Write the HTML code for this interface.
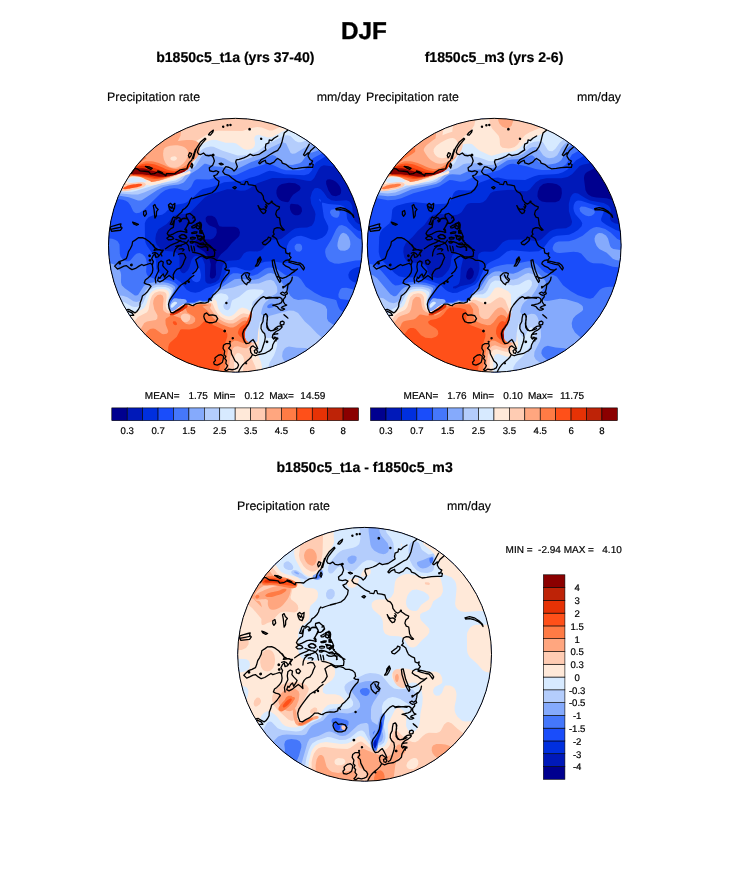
<!DOCTYPE html>
<html lang="en"><head><meta charset="utf-8"><title>DJF Precipitation rate</title>
<style>
html,body{margin:0;padding:0;background:#fff;}
body{width:733px;height:882px;overflow:hidden;font-family:"Liberation Sans",Arial,Helvetica,sans-serif;}
svg{display:block}
text{font-family:"Liberation Sans",Arial,Helvetica,sans-serif;fill:#000;text-rendering:geometricPrecision}
.t0{font-size:24.3px;font-weight:bold;stroke:#000;stroke-width:0.35px}
.t1{font-size:14.1px;font-weight:bold;stroke:#000;stroke-width:0.2px}
.t2{font-size:12.4px;stroke:#000;stroke-width:0.15px}
.lb{font-size:9.6px;stroke:#000;stroke-width:0.2px}
.st{font-size:10px;white-space:pre;stroke:#000;stroke-width:0.2px}
</style></head><body>
<svg width="733" height="882" viewBox="0 0 733 882">
<defs>
<clipPath id="clip1"><circle cx="235.4" cy="245.25" r="126.9"/></clipPath>
<clipPath id="clip2"><circle cx="494.2" cy="245.25" r="126.9"/></clipPath>
<clipPath id="clip3"><circle cx="364.6" cy="654.3" r="126.9"/></clipPath>
<g id="coast" fill="none" stroke="#000" stroke-width="1.3" stroke-linejoin="round" stroke-linecap="round"><path d="M-104.3,-71.6 -100.5,-76.9 -98.1,-76.4 -95.3,-74.3 -90.5,-74.0 -86.7,-73.5 -84.6,-71.1 -81.0,-71.6 -78.1,-73.3 -74.7,-72.1 -71.9,-71.1 -69.5,-69.5 -69.0,-71.6 -64.7,-71.6 -60.9,-71.3 -59.0,-73.0 -55.2,-75.4 -51.3,-76.1 -48.5,-76.4 -47.5,-80.2 -45.8,-83.1 -43.7,-85.0 -42.8,-87.8 -41.3,-92.1 -39.9,-96.0M-90.0,-78.8 -86.2,-78.3 -83.1,-76.9 -84.6,-75.8 -87.2,-77.1ZM-47.0,-89.8 -45.8,-92.6 -43.7,-91.7 -44.5,-89.3 -46.1,-87.4ZM-44.7,-78.8 -43.7,-82.1 -42.6,-80.2 -43.5,-77.1ZM-77.6,-74.3 -75.2,-73.7 -72.8,-72.4 -74.7,-72.4ZM-42.0,-86.7 -40.5,-92.5 -38.5,-97.7 -35.1,-102.9 -30.4,-107.0 -29.6,-106.2 -33.3,-101.8 -36.6,-97.4 -38.0,-93.1 -36.8,-91.1 -34.5,-90.7 -31.9,-92.3 -29.6,-90.0 -26.6,-89.5 -24.0,-90.2 -22.0,-87.6 -21.0,-84.2 -22.7,-80.0 -26.1,-77.4 -25.7,-74.5 -22.2,-73.7 -19.2,-74.5 -16.6,-73.3 -18.7,-70.5 -21.7,-69.3 -19.9,-66.8 -16.4,-64.0 -17.1,-59.8 -19.9,-55.4 -23.4,-52.5 -28.7,-50.8 -34.5,-49.3 -39.1,-47.8 -42.6,-46.5M-26.9,-110.5 -25.2,-112.8 -22.0,-115.1 -22.7,-112.8 -25.0,-110.1ZM-12.8,-118.6a0.58,0.58 0 1 0 1.16,0a0.58,0.58 0 1 0 -1.16,0ZM-8.4,-120.1a0.58,0.58 0 1 0 1.16,0a0.58,0.58 0 1 0 -1.16,0ZM-5.5,-120.3a0.58,0.58 0 1 0 1.16,0a0.58,0.58 0 1 0 -1.16,0ZM13.5,-116.1a0.70,0.70 0 1 0 1.39,0a0.70,0.70 0 1 0 -1.39,0ZM25.2,-106.4a0.58,0.58 0 1 0 1.16,0a0.58,0.58 0 1 0 -1.16,0ZM-22.9,-90.2a0.70,0.70 0 1 0 1.39,0a0.70,0.70 0 1 0 -1.39,0ZM-16.2,-81.6 -14.2,-82.1 -12.2,-80.9 -14.2,-80.3ZM-2.6,-57.7 -0.6,-58.7 0.9,-57.7 -0.6,-56.3ZM42.4,-109.3 38.6,-107.0 36.3,-104.7 33.9,-105.3 33.4,-102.4 30.5,-101.2 29.9,-97.7 30.5,-95.4 27.0,-93.1 23.5,-90.8 20.0,-90.2 17.7,-89.6 14.8,-91.1 11.9,-89.0 8.4,-87.3 3.8,-85.8 0.9,-85.3 0.3,-83.2 2.0,-78.6 0.3,-75.7 -1.4,-74.2 -3.2,-76.3 -6.7,-78.0 -9.6,-78.6 -11.3,-76.3 -12.7,-73.7 -10.7,-71.1 -6.7,-69.9 -3.2,-67.0 0.9,-64.1 4.9,-62.4M42.4,-94.8 38.6,-93.1 33.9,-90.2 29.3,-87.3 25.8,-85.6 23.3,-82.3 24.4,-81.4 27.0,-83.7 29.9,-85.0 30.7,-82.3 34.5,-81.1 38.6,-83.2 40.9,-85.9 42.4,-86.7M35.7,-43.6a0.58,0.58 0 1 0 1.16,0a0.58,0.58 0 1 0 -1.16,0ZM52.3,-115.1 48.8,-112.2 47.6,-107.6 46.5,-102.9 44.7,-98.3 42.4,-95.1M42.4,-86.7 45.9,-84.4 47.0,-82.1 50.5,-80.9 54.0,-78.0 57.5,-76.3 62.1,-76.9 66.8,-77.7 72.6,-78.0 77.2,-77.9 77.8,-80.7 76.0,-81.8 77.2,-84.2 74.6,-85.8 72.8,-88.8 72.8,-92.5 69.3,-89.5 68.1,-90.4 71.4,-96.6 73.9,-101.1M72.8,-90.4 75.4,-94.8 79.3,-98.3M74.1,-81.1a0.58,0.58 0 1 0 1.16,0a0.58,0.58 0 1 0 -1.16,0ZM-43.7,-47.3 -45.3,-45.2 -46.1,-42.3 -47.8,-39.5 -50.2,-37.0 -52.7,-35.4 -53.9,-32.9 -56.4,-30.9 -58.4,-28.8 -60.5,-27.2 -61.7,-28.4 -62.9,-27.0 -63.7,-23.9 -65.1,-21.1 -62.9,-20.7 -62.1,-23.1 -60.9,-25.4 -62.1,-17.8 -64.5,-16.6 -67.0,-14.1 -68.2,-11.6 -67.0,-10.0 -64.5,-10.4 -62.5,-11.2 -60.0,-12.5 -57.6,-13.7 -54.7,-14.1 -51.9,-13.7 -49.4,-13.1 -48.6,-14.9 -49.8,-16.6 -48.6,-19.0 -47.4,-21.5 -46.5,-23.9 -47.8,-26.2 -50.2,-27.2 -52.7,-26.8 -54.7,-25.6 -55.5,-23.5 -56.4,-24.7M-56.0,-9.2 -53.5,-10.8 -51.0,-10.0 -48.6,-8.0 -50.2,-6.3 -53.1,-6.7 -55.1,-7.6ZM-68.6,-7.1 -65.8,-9.2 -62.9,-8.4 -61.7,-6.7 -64.1,-5.5 -67.0,-5.5ZM-69.9,3.5 -67.0,1.5 -64.5,-0.2 -61.7,-1.4 -58.4,-2.6 -56.4,-3.9 -54.7,-4.7M-61.7,10.7 -61.3,7.2 -60.0,3.9 -57.6,1.5 -54.3,-0.2 -51.9,-1.0 -49.4,-2.2 -47.8,-3.5 -46.9,-5.1M-82.1,-39.5 -80.5,-40.7 -79.3,-37.8 -77.2,-35.8 -78.9,-33.7 -79.0,-29.7 -80.5,-27.2 -80.9,-31.3 -81.3,-35.4ZM-67.0,-40.3 -65.0,-41.9 -62.9,-40.1 -60.5,-41.9 -60.9,-37.0 -62.5,-33.7 -65.0,-34.6 -66.2,-37.0ZM-65.8,-39.1 -64.1,-37.0 -63.2,-38.7 -62.1,-36.2M-84.6,-1.8 -82.1,-0.2 -80.1,3.1 -81.3,5.1 -78.9,4.7 -75.6,4.3 -73.1,5.5 -74.8,8.0 -73.5,10.7M-83.0,8.0 -80.5,7.2 -78.1,8.4 -76.4,10.7M-124.9,-18.5 -120.8,-19.7 -116.7,-20.8 -114.4,-21.4 -115.0,-19.1 -113.3,-17.4 -115.0,-15.0 -119.6,-14.5 -123.7,-13.9 -124.9,-16.2ZM-123.7,-16.2 -119.6,-17.0 -115.0,-17.9M-102.8,-23.2 -100.5,-22.4 -97.0,-20.8 -98.8,-20.0 -101.7,-21.4ZM-91.8,-33.6 -89.7,-34.8 -88.9,-31.3 -90.7,-29.0 -91.8,-30.7ZM-97.0,-7.5 -99.9,-5.4 -102.8,-3.5 -103.4,0.0 -105.1,3.5 -106.9,6.4 -108.0,10.5 -109.2,13.4 -112.7,15.1 -116.2,16.3 -118.5,18.6 -120.8,20.9 -117.9,23.8 -115.0,22.6 -111.5,20.9 -109.2,20.3 -106.3,22.6 -103.4,24.4 -99.9,23.2 -96.4,20.9 -93.6,19.2 -91.8,20.3 -88.3,19.2 -84.9,18.0 -83.1,19.7 -82.5,23.8 -83.1,27.3 -84.9,30.2 -87.8,33.1 -90.1,34.8 -91.2,37.7 -88.9,38.9 -86.0,39.5 -84.3,41.2 -85.4,42.7M-97.0,-7.5 -93.0,-7.7 -89.5,-6.1 -86.0,-3.5 -83.1,-0.6 -80.8,2.3 -77.9,4.1 -74.4,5.0 -72.1,5.0 -73.8,7.6 -77.3,11.6 -79.6,12.2 -80.4,8.7 -82.0,9.9 -83.7,13.4 -82.0,16.3 -83.1,19.7M-116.3,18.0a0.70,0.70 0 1 0 1.39,0a0.70,0.70 0 1 0 -1.39,0ZM-104.8,19.7a0.81,0.81 0 1 0 1.62,0a0.81,0.81 0 1 0 -1.62,0ZM-86.5,10.5a0.70,0.70 0 1 0 1.39,0a0.70,0.70 0 1 0 -1.39,0ZM-86.1,15.1a0.70,0.70 0 1 0 1.39,0a0.70,0.70 0 1 0 -1.39,0ZM-79.6,37.7 -80.2,33.1 -78.5,29.0 -76.7,25.5 -77.3,21.5 -76.7,17.4 -74.4,15.7 -72.1,16.8 -72.7,20.3 -70.9,22.6 -67.5,26.1 -68.6,28.4 -70.9,31.9 -72.1,28.7 -73.8,30.2 -75.6,33.1 -76.7,31.9 -77.9,35.4 -75.6,36.6 -72.1,34.8 -68.6,31.9 -66.3,30.2 -64.0,31.9 -61.7,34.2 -62.2,29.6 -60.5,26.1 -58.2,23.8 -54.7,22.6 -52.4,19.2 -51.2,15.7 -49.5,12.2 -51.2,8.7 -54.1,8.1 -57.0,9.0M-68.6,15.7 -66.3,14.5 -64.0,16.8 -65.7,19.2 -68.0,18.6ZM-57.0,42.7 -54.7,40.0 -51.2,37.7 -47.7,35.4 -44.8,32.5 -41.6,30.2M-50.6,37.9a0.58,0.58 0 1 0 1.16,0a0.58,0.58 0 1 0 -1.16,0ZM-47.2,36.6a0.58,0.58 0 1 0 1.16,0a0.58,0.58 0 1 0 -1.16,0ZM-35.6,-23.2 -33.9,-20.3 -34.5,-15.6 -32.7,-12.7 -31.0,-8.7 -31.6,-5.2 -28.7,-1.7 -25.2,0.6 -22.3,3.5 -20.6,7.0 -21.1,11.0 -25.2,11.6 -29.8,11.6 -32.7,9.9 -35.6,8.7 -39.1,7.6 -42.6,7.0M-42.6,-27.2 -40.9,-28.4 -40.3,-25.5 -42.0,-23.7M-39.1,-21.4 -36.2,-22.6 -35.1,-19.1 -36.8,-16.2 -39.1,-17.4ZM-35.6,-15.0 -33.3,-14.5 -33.6,-11.9 -35.6,-12.1ZM-38.0,-8.7 -34.5,-9.3 -32.2,-7.5 -34.5,-5.4 -37.4,-6.1ZM-42.6,-4.0 -39.1,-2.9 -35.6,-1.7 -32.2,-2.3 -29.8,0.6 -27.5,2.3 -28.1,5.2M-31.0,-4.0 -28.7,-2.3M-42.6,28.4 -39.7,26.1 -37.4,22.1 -38.5,18.0 -39.7,14.5 -36.8,12.2 -33.3,10.5 -31.0,12.2 -28.7,13.4 -25.2,12.2 -21.1,13.4 -18.8,15.1 -15.3,15.1 -11.9,16.3 -9.6,18.6 -9.0,22.1 -10.7,23.8 -9.0,25.0 -6.1,25.0 -6.7,27.9 -9.0,30.2 -11.3,33.1 -13.6,36.6 -14.8,40.0 -15.3,42.7M6.1,30.8 9.0,27.9 11.9,27.3 14.2,28.4 13.1,31.9 15.4,34.2 14.2,36.6 11.9,37.7 11.3,39.5 9.0,37.7 6.7,34.8ZM10.2,29.6 11.9,33.1 14.2,35.4M20.0,20.9 21.8,18.0 22.3,14.5 24.7,11.6 25.8,14.5 24.1,18.0 22.3,20.6ZM20.9,19.7 22.9,16.3 24.7,13.4M36.8,15.1 38.6,14.5 39.7,19.2 41.1,25.0 43.2,30.2 45.3,35.4 44.4,37.1 42.6,34.2 40.9,30.8 39.2,26.1 37.4,20.3ZM100.4,-36.5 105.0,-37.7 109.7,-36.5 114.3,-33.6 117.8,-30.1 118.4,-27.8 116.6,-30.7 113.1,-33.0 109.1,-34.8 105.0,-35.6 101.0,-35.3ZM44.6,0.7 47.0,2.3 49.9,3.5 50.5,7.6 52.8,8.7 54.6,7.6 54.0,10.5 55.7,12.2 54.0,14.5 50.5,15.1 48.2,16.8 47.6,18.6 50.5,20.9 53.4,22.1 56.3,24.4 59.8,25.0 62.1,23.8 59.2,26.1 56.3,27.9 53.4,30.2 50.5,31.9 47.0,33.1 43.6,31.9 42.4,31.3M53.4,15.7 57.5,16.3 61.5,17.4 65.0,18.0 67.3,19.7 69.1,22.6 68.1,24.7 66.2,22.1 64.4,19.7 61.0,19.2 56.9,18.0 53.4,16.8M56.9,31.9 56.3,34.8 54.6,37.7 52.3,38.9 49.4,41.2 47.6,42.7M-85.4,42.7 -87.8,46.2 -90.7,49.1 -93.0,50.8 -93.9,54.3 -95.3,57.8 -95.5,61.3 -97.0,64.2 -98.8,66.5 -100.5,67.6 -103.4,65.9 -106.3,64.2 -109.0,64.5M-107.5,65.9 -103.4,67.6 -101.7,70.0 -105.1,70.1M-57.0,42.7 -60.5,47.3 -63.4,51.4 -65.7,54.9 -66.9,58.9 -66.3,63.0 -64.6,67.1 -62.2,67.6 -58.8,65.3 -55.3,63.6 -52.4,61.3 -50.1,58.9 -46.6,58.9 -43.7,60.1 -41.6,60.3M-42.6,60.3 -39.1,58.4 -34.5,57.5 -30.4,57.8 -26.9,56.6 -26.4,53.7 -24.0,52.6 -22.3,49.7 -20.0,47.9 -17.7,45.6 -15.3,42.7M-26.9,54.9 -25.2,53.7 -24.3,55.2M-31.0,68.8 -28.7,67.6 -26.4,70.0 -22.9,69.6 -19.4,70.5 -17.7,73.4 -19.4,76.3 -22.9,77.5 -26.4,77.5 -29.3,76.3 -31.0,73.4 -31.6,71.1ZM-9.6,57.8a0.58,0.58 0 1 0 1.16,0a0.58,0.58 0 1 0 -1.16,0ZM-11.4,85.8a0.70,0.70 0 1 0 1.39,0a0.70,0.70 0 1 0 -1.39,0ZM-3.2,92.9a0.58,0.58 0 1 0 1.16,0a0.58,0.58 0 1 0 -1.16,0ZM-6.0,96.6a0.46,0.46 0 1 0 0.93,0a0.46,0.46 0 1 0 -0.93,0ZM42.4,53.1 38.6,52.6 33.9,52.0 30.5,52.6 28.1,51.4 25.2,53.1 22.3,56.0 19.4,59.5 17.1,63.0 16.0,66.5 15.4,70.5 14.8,74.6 13.1,78.6 10.7,82.1 8.4,85.0 7.3,88.5 7.8,92.6 9.0,96.0 10.7,98.4 13.6,97.8 16.0,95.5 17.7,94.3 19.4,97.2 21.2,100.7 22.3,103.6 20.6,103.0 17.7,100.7 16.0,101.3 14.8,103.6 15.4,107.1 17.1,109.4 20.0,110.5 22.9,109.4 25.8,108.8 29.3,108.2 32.2,106.5 34.5,105.3 36.8,103.0 37.4,99.5 38.6,97.2 40.3,94.3 42.4,93.7M42.4,83.3 38.6,85.0 35.1,85.6 32.8,83.3 31.6,79.8 31.6,75.2 32.2,71.1 31.0,68.8 28.7,69.4 27.9,72.9 27.6,76.3 25.8,79.8 25.6,83.3 27.0,86.2 29.3,88.5 29.9,92.0 29.3,96.0 28.1,99.5 27.0,103.0 25.8,105.9 23.5,107.4M18.9,105.3 20.6,104.2 22.3,105.9 21.2,108.2 19.4,107.6ZM17.1,109.4 15.4,112.3 13.1,114.6 10.2,116.9 7.8,119.2 5.5,122.1 3.8,125.0 3.2,126.8M30.9,96.6a0.70,0.70 0 1 0 1.39,0a0.70,0.70 0 1 0 -1.39,0ZM10.3,118.1a0.46,0.46 0 1 0 0.93,0a0.46,0.46 0 1 0 -0.93,0ZM37.4,89.7 39.7,88.9 42.4,88.5M38.6,92.0 42.4,92.8M-11.9,100.1 -9.6,98.4 -5.5,98.1 -4.9,100.7 -6.7,103.0 -4.3,105.3 -3.8,108.8 -2.0,112.3 -0.3,115.8 2.0,117.5 3.2,119.8 2.0,122.7 -0.3,123.9 -3.2,124.5 -6.7,123.9 -9.0,125.6 -10.7,124.5 -9.0,122.7 -7.8,120.4 -9.6,118.1 -9.0,115.2 -10.7,113.4 -9.6,111.1 -11.3,109.4 -10.7,105.9 -12.4,103.0ZM-19.4,111.7 -17.1,110.0 -14.2,109.4 -11.9,111.1 -12.2,114.0 -13.0,116.9 -15.3,118.7 -18.2,119.8 -21.1,119.2 -21.7,116.9 -20.0,115.2 -20.6,112.9ZM55.8,35.7 54.1,38.2 52.5,39.8 52.1,43.1 51.3,46.3 52.1,48.4 50.0,49.6 48.0,50.0 46.4,49.2 45.1,48.0 47.2,46.8 49.2,48.0 51.3,46.3M50.0,49.6 50.0,51.7 48.0,54.1 48.0,56.6 49.6,59.0 51.3,59.8 49.2,60.7 46.8,61.5 46.0,62.7 48.0,63.1 49.2,63.9 47.2,64.8 45.1,64.8 43.5,63.5 41.9,61.5 39.4,60.3 37.4,60.0 40.2,59.4 43.5,58.6 46.0,57.4 46.8,55.3 46.4,53.3 44.3,52.1 41.0,52.1 36.9,52.5 33.7,52.9 30.4,53.3M47.3,41.8a0.65,0.65 0 1 0 1.31,0a0.65,0.65 0 1 0 -1.31,0ZM48.6,69.4 50.5,70.9 52.5,72.9M49.1,70.1 52.1,72.4M45.1,76.6 47.2,75.8 48.8,77.0 48.4,79.1 46.4,79.9 44.7,78.7ZM30.4,68.4 31.6,70.1 32.0,74.2 31.2,78.3 31.6,82.4 33.3,84.8 35.7,85.6 38.2,84.8 40.2,82.8 42.7,81.1 45.1,80.7 46.8,81.5 45.5,83.2 43.5,84.8 41.0,86.0 39.0,87.7 37.4,89.7 36.9,92.2 38.2,93.8 40.2,92.2 41.0,93.8 40.6,95.7M5.4,-61.2 9.2,-60.7 10.2,-63.6 12.1,-63.6 13.0,-60.7 16.9,-60.2 20.2,-59.3 21.2,-55.9 23.1,-53.5 25.9,-52.1 27.8,-49.2 28.3,-45.9 30.7,-42.6 33.1,-41.1 36.0,-43.0 38.3,-41.6 40.7,-39.7 44.1,-38.3 43.6,-36.4 41.2,-34.4 40.3,-31.1 41.7,-28.2 44.1,-27.3 44.6,-23.9 45.0,-20.6 46.5,-17.7 48.9,-15.3 47.4,-14.9 44.6,-17.3 41.7,-17.7 38.8,-16.3 37.9,-13.0 38.8,-11.0 36.9,-9.1 38.8,-8.2 41.2,-6.3 42.2,-3.4 43.6,-0.5 44.6,0.7M22.6,-39.7 24.0,-37.3 25.9,-35.9 28.3,-36.4 30.7,-34.9 29.8,-32.5 27.8,-31.6 25.9,-33.5 24.0,-36.4ZM30.4,-40.7 31.7,-39.2 30.7,-36.8 29.8,-38.7M26.9,-2.5 29.3,-4.4 32.1,-6.3 33.1,-8.2 35.5,-7.2 35.0,-4.8 32.6,-2.5 30.2,-0.5 27.8,-1.0ZM-49.0,-30.8 -45.4,-31.8 -43.2,-29.9 -40.8,-27.8 -40.0,-25.3 -41.6,-23.4 -43.8,-22.0 -46.0,-22.0 -46.5,-24.2 -47.9,-26.7 -49.2,-28.8ZM-59.6,-26.1 -57.4,-27.8 -55.5,-27.2 -55.0,-24.8 -55.8,-23.4 -54.4,-23.9 -53.6,-26.1 -51.4,-26.9 -48.7,-26.7M-46.5,-22.0 -47.9,-19.8 -49.2,-17.9 -50.6,-15.7 -49.2,-14.7 -48.4,-13.0 -49.5,-12.7M-43.8,-18.5 -41.0,-20.1 -37.8,-21.2 -36.1,-22.8 -34.5,-22.3 -34.0,-20.1 -34.2,-17.4 -35.6,-16.8 -36.1,-19.0 -37.8,-19.6 -40.0,-18.5 -41.6,-17.4 -43.2,-17.4ZM-35.7,-13.6a1.20,1.20 0 1 0 2.40,0a1.20,1.20 0 1 0 -2.40,0ZM-35.0,-13.6a0.55,0.55 0 1 0 1.09,0a0.55,0.55 0 1 0 -1.09,0ZM-43.8,-12.5 -41.0,-13.3 -38.3,-13.3 -38.9,-12.2 -41.6,-11.8 -43.5,-11.7ZM-44.9,-7.6 -42.7,-8.1 -40.0,-7.6 -40.5,-6.5 -43.2,-6.2 -44.9,-6.5ZM-38.9,-10.0 -36.7,-9.7 -35.6,-8.7 -37.8,-8.7ZM-56.3,-8.7 -54.1,-10.3 -51.4,-10.6 -49.2,-9.2 -48.7,-7.6 -50.3,-6.5 -53.1,-6.5 -55.2,-7.0ZM-59.6,-5.9 -56.3,-4.8 -53.6,-3.7 -50.9,-3.2 -48.7,-1.6 -47.0,0.6 -46.5,3.9 -46.0,5.7M-59.6,1.2 -56.3,0.1 -54.1,0.6M-45.4,-3.7 -43.2,-4.0 -41.6,-2.9 -43.2,-2.1 -44.9,-2.4ZM-41.0,-3.7 -37.8,-2.6 -35.6,-1.0 -32.3,-0.5 -29.0,-1.0 -26.9,0.6 -24.7,2.3 -21.9,3.9 -19.6,5.0M-36.1,-5.9 -34.0,-7.6 -31.8,-8.7 -31.2,-7.6 -33.4,-5.9 -35.0,-4.6ZM-31.0,-4.6a0.33,0.33 0 1 0 0.65,0a0.33,0.33 0 1 0 -0.65,0ZM-44.3,0.6 -43.8,2.8 -43.2,5.7M-41.6,1.2 -41.0,3.9 -40.8,5.7M-37.8,0.6 -36.1,1.7 -33.4,2.0 -30.1,1.2 -28.2,2.3 -27.4,5.0M-56.3,3.9 -53.1,3.4 -51.4,4.4 -52.5,5.7"/></g>
</defs>
<rect width="733" height="882" fill="#fff"/>
<text x="364.0" y="38.9" class="t0" text-anchor="middle">DJF</text>
<text x="235.3" y="62.2" class="t1" text-anchor="middle">b1850c5_t1a (yrs 37-40)</text>
<text x="494" y="62.2" class="t1" text-anchor="middle">f1850c5_m3 (yrs 2-6)</text>
<text x="107.1" y="101" class="t2">Precipitation rate</text>
<text x="360.8" y="101" class="t2" text-anchor="end">mm/day</text>
<text x="366" y="101" class="t2">Precipitation rate</text>
<text x="621" y="101" class="t2" text-anchor="end">mm/day</text>
<g clip-path="url(#clip1)">
<rect x="107.5" y="117.3" width="255.8" height="255.8" fill="#00008f"/>
<g transform="translate(235.4,245.25)"><path fill="#0019b9" fill-rule="evenodd" d="M-148.8,-150.3 150.3,-150.3 150.3,150.3 -150.3,150.3 -150.3,-150.3 -148.8,-150.3ZM92.0,-65.7 90.7,-64.2 90.8,-61.2 93.0,-55.1 95.8,-50.6 97.4,-49.5 100.5,-48.9 104.4,-50.6 105.5,-52.1 105.8,-55.1 104.8,-58.2 102.7,-61.2 100.5,-63.5 97.4,-65.3 94.4,-66.1 92.0,-65.7ZM46.5,-61.2 43.8,-59.7 42.4,-58.2 41.1,-55.1 41.0,-52.1 41.7,-49.1 43.6,-46.1 46.1,-44.3 49.1,-43.4 52.1,-43.1 53.6,-43.7 55.5,-47.6 57.7,-50.6 64.2,-54.9 65.2,-56.7 65.0,-58.2 63.8,-59.7 59.7,-61.9 53.6,-62.4 46.5,-61.2ZM56.3,-41.5 55.1,-41.2 54.4,-38.5 54.8,-35.5 56.2,-32.5 57.7,-31.0 59.7,-30.1 62.7,-29.9 65.0,-31.0 66.6,-34.0 66.3,-37.0 65.6,-38.5 62.7,-40.8 56.3,-41.5ZM-27.6,-29.5 -29.4,-27.9 -29.8,-26.4 -29.3,-23.4 -26.4,-20.1 -20.0,-17.4 -18.9,-16.3 -18.6,-12.8 -19.6,-9.8 -21.9,-7.1 -24.9,-5.8 -37.0,-6.4 -39.3,-5.3 -40.6,-3.8 -41.0,-2.3 -40.0,0.8 -31.0,6.6 -27.2,11.3 -25.8,14.4 -24.6,18.9 -25.6,31.0 -24.9,32.8 -23.4,33.6 -20.8,32.5 -19.3,29.5 -19.7,18.9 -17.2,12.8 -14.4,9.1 -8.3,3.7 -3.5,-2.3 3.0,-8.3 4.0,-9.8 4.6,-12.8 3.6,-15.9 2.1,-17.4 -0.8,-18.5 -12.8,-18.4 -15.9,-19.0 -17.0,-20.4 -18.9,-25.7 -20.5,-27.9 -23.4,-29.6 -27.6,-29.5Z"/>
<path fill="#002fde" fill-rule="evenodd" d="M-148.8,-150.3 150.3,-150.3 150.3,-102.7 123.1,-102.6 118.4,-102.0 116.5,-100.5 114.1,-95.0 112.5,-92.9 105.0,-88.4 100.5,-80.4 97.4,-78.8 88.4,-79.9 85.4,-78.7 83.4,-76.3 78.8,-67.2 76.3,-64.8 74.8,-64.3 71.8,-64.4 58.2,-67.1 37.0,-67.3 21.9,-62.0 12.8,-55.9 9.8,-54.8 5.3,-54.5 -3.8,-55.9 -8.3,-55.9 -26.1,-50.6 -31.0,-47.5 -45.5,-32.5 -49.1,-31.4 -56.7,-31.3 -61.2,-29.4 -68.7,-21.2 -77.0,-15.9 -79.3,-11.3 -80.0,-6.8 -79.8,-3.8 -78.8,-0.8 -74.8,3.7 -70.2,5.6 -61.2,6.5 -57.9,8.3 -56.7,10.1 -55.9,12.8 -55.9,21.9 -55.4,24.9 -53.6,27.4 -52.2,27.9 -50.6,27.7 -47.6,24.9 -46.0,21.9 -43.8,14.4 -41.5,11.4 -40.0,10.7 -37.0,10.7 -34.0,12.3 -32.3,14.4 -30.6,18.9 -30.1,35.5 -29.5,37.1 -27.9,38.2 -24.9,38.5 -20.0,37.0 -16.4,34.0 -14.5,29.5 -12.8,20.4 -11.3,17.9 -9.8,16.6 -6.8,15.5 0.8,15.1 3.7,14.4 5.5,12.8 8.4,8.3 11.3,6.4 14.4,6.0 21.9,6.2 25.4,5.3 27.9,3.2 31.4,-2.3 34.0,-4.6 37.0,-5.6 43.1,-5.5 46.1,-6.4 56.7,-15.0 59.7,-16.7 64.2,-17.6 71.8,-17.8 76.3,-19.6 78.1,-21.9 79.3,-24.9 80.1,-31.0 79.4,-34.0 75.8,-41.5 75.0,-47.6 76.7,-53.6 79.3,-56.9 82.3,-57.3 85.4,-56.0 88.4,-52.8 91.9,-47.6 95.9,-44.9 100.5,-44.3 111.0,-45.0 114.1,-43.7 115.9,-41.5 117.0,-38.5 117.5,-29.5 118.3,-26.4 120.2,-23.4 123.1,-21.3 127.7,-20.5 136.7,-21.5 150.3,-21.2 150.3,150.3 -150.3,150.3 -150.3,-150.3 -148.8,-150.3Z"/>
<path fill="#1a4dfa" fill-rule="evenodd" d="M-148.8,-150.3 119.9,-150.3 120.0,-124.6 119.3,-120.1 118.2,-117.1 115.6,-114.1 109.0,-109.5 102.9,-102.0 96.9,-97.4 91.4,-89.8 80.8,-83.1 79.2,-80.8 76.3,-74.6 73.3,-71.2 68.7,-70.1 49.1,-71.0 38.5,-74.0 34.0,-74.4 31.0,-73.5 23.4,-69.9 14.4,-67.4 6.8,-64.5 -11.3,-63.1 -21.9,-58.8 -32.5,-56.2 -35.5,-54.4 -43.1,-47.1 -49.1,-42.8 -52.1,-41.7 -59.7,-40.5 -62.7,-39.4 -65.7,-37.3 -70.2,-32.6 -73.3,-30.6 -76.3,-30.0 -82.3,-30.1 -86.9,-27.9 -89.4,-24.9 -90.6,-21.9 -90.4,-5.3 -89.8,-2.3 -88.3,0.8 -81.8,9.8 -80.2,12.8 -79.4,15.9 -79.1,23.4 -77.8,26.5 -74.8,28.5 -65.7,30.5 -59.7,33.3 -54.7,37.0 -48.8,44.6 -44.6,46.7 -40.0,47.5 -35.5,46.5 -29.7,43.1 -21.9,40.6 -15.9,37.4 -12.7,34.0 -8.3,24.5 -5.3,22.3 -2.3,21.9 0.8,22.1 9.8,25.0 14.4,25.4 16.5,24.9 18.9,23.5 24.9,17.9 29.5,16.4 37.0,16.0 49.1,18.1 52.1,17.4 53.4,15.9 53.7,14.4 51.5,5.3 51.6,0.8 53.7,-3.8 56.7,-6.8 61.2,-9.1 65.7,-9.4 70.1,-8.3 76.3,-5.7 80.8,-5.3 86.9,-7.6 89.7,-9.8 91.4,-12.1 92.9,-15.9 92.8,-18.9 88.5,-27.9 86.5,-41.5 86.9,-42.8 92.9,-41.3 105.0,-40.3 108.9,-38.5 110.7,-35.5 111.7,-26.4 113.2,-23.4 118.6,-17.6 123.1,-14.6 127.7,-13.9 136.7,-15.0 150.3,-14.7 150.3,21.8 126.1,21.6 121.6,22.1 117.7,23.4 115.5,24.9 114.1,26.6 112.9,29.5 113.4,32.5 114.3,34.0 117.1,36.2 121.6,38.0 126.1,38.6 150.3,38.3 150.3,150.3 -150.3,150.3 -150.3,-150.3 -148.8,-150.3ZM83.8,-46.4 85.4,-45.2 85.4,-43.2 83.8,-44.9 83.8,-46.4ZM-38.5,22.6 -37.0,22.2 -35.5,23.9 -34.4,29.5 -34.6,32.5 -35.5,35.3 -37.0,36.6 -38.5,37.0 -40.0,36.8 -42.5,35.5 -43.6,34.0 -43.8,32.5 -43.1,29.5 -41.5,26.5 -38.5,22.6Z"/>
<path fill="#4577fb" fill-rule="evenodd" d="M-148.8,-150.3 115.0,-150.3 115.2,-124.6 114.6,-121.6 112.5,-118.0 106.0,-112.5 99.5,-105.0 93.7,-100.5 86.9,-92.1 77.5,-86.9 75.0,-83.8 71.8,-78.0 68.7,-75.7 64.2,-75.0 50.6,-75.0 46.1,-76.2 37.0,-80.5 34.0,-81.3 31.0,-81.4 14.4,-76.5 0.8,-70.2 -14.4,-69.0 -26.4,-65.7 -38.5,-66.0 -40.0,-65.5 -41.4,-64.2 -44.3,-58.2 -47.6,-55.2 -50.6,-54.8 -57.8,-56.7 -61.2,-56.9 -65.7,-56.5 -70.2,-55.1 -74.6,-52.1 -91.4,-35.4 -95.9,-32.5 -99.0,-32.0 -100.5,-32.4 -102.2,-34.0 -105.0,-40.0 -107.3,-43.1 -109.6,-44.6 -112.5,-45.5 -123.1,-47.0 -150.3,-47.0 -150.3,-150.3 -148.8,-150.3ZM95.9,-35.6 100.5,-36.2 103.5,-34.7 104.4,-32.5 103.5,-28.9 102.0,-27.6 100.5,-27.4 98.5,-27.9 96.2,-29.5 94.6,-32.5 94.8,-34.0 95.9,-35.6ZM103.5,-19.6 106.5,-20.3 111.0,-18.4 115.6,-14.5 121.6,-8.0 124.6,-6.1 127.7,-5.7 138.2,-7.4 150.3,-7.0 150.3,14.8 120.1,15.2 103.5,18.5 99.0,18.2 94.4,16.2 92.5,14.4 90.6,11.3 89.7,6.8 90.1,3.8 95.9,-5.8 100.8,-15.9 103.5,-19.6ZM-148.8,-6.4 -126.1,-6.7 -123.1,-6.4 -119.7,-5.3 -117.6,-3.8 -115.9,-0.8 -115.6,8.3 -114.9,11.3 -112.5,14.5 -109.5,16.1 -106.5,15.9 -105.0,15.0 -100.5,9.7 -98.5,8.3 -95.9,7.8 -92.9,8.9 -90.5,11.3 -89.1,14.4 -88.7,17.4 -89.3,26.4 -88.4,29.5 -87.1,31.0 -82.3,32.9 -65.7,35.3 -61.2,37.1 -57.6,40.0 -57.5,41.5 -60.3,46.1 -64.9,56.7 -64.9,61.2 -64.2,63.3 -62.7,64.3 -59.7,62.7 -56.7,59.9 -52.1,57.2 -41.5,57.0 -35.5,54.7 -32.5,55.5 -26.4,55.3 -22.9,49.1 -19.5,44.6 -9.8,35.5 -5.3,29.7 -2.3,27.9 2.3,27.9 12.8,30.6 17.4,30.5 21.9,29.0 29.5,23.6 32.5,22.5 35.5,22.2 41.5,23.7 49.1,29.2 52.1,30.7 59.7,30.7 62.7,31.5 65.5,34.0 70.5,41.5 79.2,47.6 86.9,51.4 99.0,54.3 100.9,55.1 102.8,61.2 104.3,64.2 112.5,70.2 118.6,76.4 121.6,77.6 124.6,78.1 150.3,78.0 150.3,150.3 -150.3,150.3 -150.3,-6.4 -148.8,-6.4ZM61.2,-1.5 64.2,-1.6 65.6,-0.8 66.6,0.8 66.8,3.8 65.7,5.6 64.2,6.4 61.2,5.9 59.4,3.8 59.2,0.8 61.2,-1.5ZM106.5,42.8 111.0,42.5 120.1,44.8 124.6,45.4 150.3,45.2 150.3,56.1 123.1,56.1 105.0,53.7 103.2,52.1 103.0,49.1 104.6,44.6 106.5,42.8Z"/>
<path fill="#85aafc" fill-rule="evenodd" d="M-148.8,-150.3 110.4,-150.3 110.1,-138.2 110.9,-126.1 110.2,-123.1 108.2,-120.1 102.6,-115.6 97.4,-108.9 89.8,-103.5 84.3,-95.9 81.8,-94.4 73.0,-91.4 71.2,-89.9 66.7,-83.8 64.2,-82.0 56.7,-80.3 49.9,-80.8 44.7,-83.8 40.0,-89.3 37.0,-90.2 15.9,-83.3 3.8,-77.3 -0.8,-75.8 -5.3,-75.8 -14.4,-78.4 -21.9,-78.9 -29.5,-81.5 -31.0,-81.4 -37.1,-76.3 -44.6,-71.6 -50.2,-64.2 -52.1,-62.5 -56.7,-60.8 -65.7,-59.7 -72.0,-58.2 -78.4,-55.1 -92.9,-45.4 -94.4,-44.8 -97.4,-44.7 -106.5,-48.0 -118.6,-50.0 -150.3,-50.3 -150.3,-150.3 -148.8,-150.3ZM106.5,-11.9 108.0,-12.4 111.0,-11.3 113.4,-8.3 114.8,-3.8 115.0,-0.8 114.3,2.3 112.5,4.2 109.5,5.5 105.0,5.3 103.0,3.8 102.0,0.8 102.2,-2.3 103.5,-7.6 105.0,-10.5 106.5,-11.9ZM-148.8,18.4 -136.7,18.7 -126.1,17.7 -121.6,19.1 -117.1,23.0 -114.9,26.4 -114.3,29.5 -114.4,37.0 -113.6,40.0 -110.6,43.1 -100.5,50.2 -99.0,50.3 -97.4,49.7 -91.4,40.4 -86.9,37.9 -80.8,36.9 -73.3,36.8 -67.2,37.8 -62.7,39.6 -60.3,41.5 -60.1,43.1 -65.7,55.1 -66.0,58.2 -65.6,62.7 -64.2,64.8 -62.7,65.1 -52.1,58.2 -41.5,57.9 -35.5,55.6 -32.5,56.4 -26.4,56.0 -25.1,55.1 -22.8,50.6 -17.4,44.3 -0.8,34.0 3.8,33.5 12.8,34.6 18.9,34.6 23.4,33.5 32.5,28.3 35.5,27.8 38.5,28.6 43.1,32.5 51.5,44.6 54.9,50.6 58.2,53.6 62.7,54.8 70.2,54.1 74.8,54.6 85.5,58.2 89.9,60.8 91.7,64.2 91.6,73.3 92.9,76.0 100.5,81.2 105.8,88.4 112.5,93.8 118.6,101.3 121.6,102.6 124.6,103.1 150.3,103.0 150.3,150.3 -150.3,150.3 -150.3,18.4 -148.8,18.4ZM32.6,59.7 31.7,61.2 32.3,62.7 34.0,63.1 37.0,62.3 38.6,61.2 39.1,59.7 37.0,58.2 35.5,58.3 32.6,59.7Z"/>
<path fill="#b4cdfc" fill-rule="evenodd" d="M-148.8,-150.3 93.6,-150.3 93.4,-118.6 92.4,-115.6 91.4,-114.4 85.4,-111.2 83.2,-109.5 79.3,-102.7 77.8,-101.2 68.7,-97.3 59.7,-91.7 56.7,-91.5 55.1,-92.4 50.6,-101.9 47.6,-102.8 44.6,-102.0 35.5,-97.8 27.9,-92.5 23.4,-90.1 0.8,-82.4 -3.8,-83.1 -11.2,-86.9 -18.9,-88.9 -24.9,-91.3 -29.5,-91.6 -32.5,-90.2 -34.0,-88.8 -39.9,-79.3 -47.6,-72.9 -53.4,-65.7 -58.2,-63.1 -74.8,-59.8 -91.4,-52.8 -97.4,-50.8 -103.5,-50.7 -123.1,-52.5 -150.3,-52.5 -150.3,-150.3 -148.8,-150.3ZM31.0,35.2 35.5,34.4 38.5,36.1 41.6,41.5 42.0,46.1 41.4,47.6 39.8,49.1 29.5,54.1 24.2,58.2 23.2,59.7 22.8,62.7 24.9,67.7 27.9,70.7 31.0,71.6 53.6,65.3 58.2,65.5 62.7,67.7 69.4,76.3 74.8,80.9 81.9,88.4 87.4,92.9 92.9,99.3 100.5,106.1 105.0,111.6 112.7,118.6 114.2,121.6 114.9,126.1 114.6,150.3 91.0,150.3 90.8,138.2 91.5,126.1 90.5,121.6 88.7,118.6 76.3,105.9 73.3,103.7 70.2,102.7 61.2,102.4 53.6,101.3 50.6,102.2 49.1,103.5 47.3,106.5 46.7,111.0 47.6,114.1 53.6,120.5 55.2,124.6 54.5,138.2 54.8,150.3 -150.3,150.3 -150.3,51.0 -126.1,51.4 -115.6,50.2 -112.5,50.4 -108.0,52.1 -102.0,56.1 -99.0,56.8 -95.9,55.9 -94.4,54.4 -89.9,45.4 -87.9,43.1 -85.9,41.5 -79.3,39.4 -70.2,39.5 -65.7,40.9 -62.5,43.1 -62.7,47.0 -66.4,55.1 -66.6,58.2 -66.3,62.7 -64.2,65.7 -62.7,65.8 -59.7,64.2 -56.7,61.4 -52.1,58.6 -41.5,58.4 -35.5,56.1 -32.5,56.9 -26.3,56.7 -24.4,55.1 -22.0,50.6 -18.9,47.3 -17.4,45.9 -14.4,44.6 -2.3,42.2 6.8,39.2 23.4,38.2 31.0,35.2Z"/>
<path fill="#d7eaff" fill-rule="evenodd" d="M-148.8,-150.3 86.9,-150.3 87.0,-124.6 85.2,-120.1 78.1,-114.1 72.8,-106.5 68.7,-104.0 65.7,-103.0 62.7,-102.9 59.7,-104.5 55.1,-109.2 52.1,-110.1 49.1,-109.8 38.5,-104.2 31.0,-101.1 23.4,-94.6 20.5,-92.9 14.4,-90.9 6.8,-89.7 2.3,-89.8 -12.8,-94.4 -21.9,-98.5 -24.9,-98.8 -29.5,-97.8 -32.5,-96.3 -35.5,-93.7 -37.0,-91.4 -40.2,-83.8 -42.1,-80.8 -49.1,-74.8 -55.1,-67.3 -59.7,-64.8 -74.8,-61.9 -99.0,-54.4 -103.5,-53.5 -109.5,-53.4 -124.6,-54.4 -150.3,-54.4 -150.3,-150.3 -148.8,-150.3ZM-77.8,41.5 -70.2,41.7 -66.7,43.1 -64.2,45.3 -64.0,47.6 -67.0,55.1 -67.2,58.2 -66.9,62.7 -64.2,66.1 -62.7,66.1 -59.7,64.6 -56.7,61.9 -52.1,59.0 -41.5,58.7 -35.5,56.7 -32.5,57.2 -26.4,57.1 -23.7,55.1 -20.4,50.4 -17.4,48.6 -14.4,48.1 -9.4,49.1 -7.7,50.6 -7.0,52.1 -7.0,53.6 -11.3,58.2 -11.9,59.7 -12.0,61.2 -11.3,63.3 -9.8,64.6 -8.3,65.0 -6.8,64.5 -5.3,62.7 -3.9,56.7 -3.1,55.1 3.8,51.6 11.3,45.2 14.4,44.2 18.9,43.9 26.4,44.4 27.9,45.1 28.5,46.1 27.7,47.6 17.4,56.5 16.6,59.7 18.2,64.2 25.3,76.3 26.8,80.8 27.9,87.1 29.5,91.2 31.0,92.5 32.5,92.7 38.5,92.4 40.0,93.0 41.4,94.4 42.0,95.9 41.7,100.5 40.0,106.5 38.5,110.3 34.4,117.1 33.0,121.6 32.9,150.3 -150.3,150.3 -150.3,57.9 -126.1,57.9 -114.1,56.5 -111.0,57.0 -103.5,61.2 -100.5,61.8 -97.4,61.4 -94.4,60.1 -92.5,58.2 -88.4,48.7 -85.4,44.7 -82.3,42.8 -77.8,41.5Z"/>
<path fill="#ffe9d9" fill-rule="evenodd" d="M-148.8,-150.3 58.0,-150.3 57.7,-123.1 56.7,-119.6 54.4,-117.1 46.1,-113.3 37.0,-108.3 32.5,-107.7 23.4,-110.5 20.4,-109.7 19.1,-108.0 18.9,-106.5 19.7,-102.0 19.1,-99.0 17.4,-97.1 14.4,-95.8 11.3,-95.5 8.3,-96.2 0.8,-101.7 -2.3,-102.6 -9.8,-102.6 -18.9,-105.2 -21.9,-105.5 -24.9,-105.0 -29.5,-103.3 -35.5,-99.8 -38.0,-97.4 -39.7,-94.4 -42.2,-85.4 -44.0,-82.3 -50.9,-76.3 -56.6,-68.7 -61.2,-66.1 -76.3,-63.5 -106.5,-55.6 -111.0,-55.4 -126.1,-56.3 -150.3,-56.3 -150.3,-150.3 -148.8,-150.3ZM-79.3,44.2 -74.8,43.5 -71.8,43.7 -69.2,44.6 -67.1,46.1 -66.0,49.1 -67.9,55.1 -68.1,61.2 -66.8,64.2 -64.2,66.5 -62.7,66.5 -59.7,65.0 -56.7,62.3 -52.1,59.4 -41.5,59.1 -35.5,57.1 -26.4,57.4 -24.2,56.7 -21.9,54.6 -20.4,54.3 -18.9,55.7 -17.3,62.7 -15.8,65.7 -13.1,68.7 -9.8,70.6 -6.8,71.2 -3.8,70.6 -1.1,68.7 3.8,63.5 6.8,62.3 11.3,63.4 15.9,67.1 21.2,74.8 22.9,79.3 23.7,83.8 23.9,92.9 22.2,106.5 22.6,109.5 25.6,117.1 26.6,121.6 26.7,150.3 -150.3,150.3 -150.3,87.0 -126.1,87.3 -123.1,86.8 -120.1,85.4 -114.5,79.3 -108.0,74.0 -103.3,68.7 -100.8,67.2 -94.4,64.8 -91.4,62.8 -89.4,59.7 -85.6,49.1 -83.0,46.1 -79.3,44.2Z"/>
<path fill="#ffccb3" fill-rule="evenodd" d="M-148.8,-150.3 51.0,-150.3 50.8,-138.2 51.5,-126.1 50.6,-122.8 48.2,-120.1 37.0,-114.7 34.0,-114.7 26.4,-117.7 21.9,-118.2 17.4,-117.6 6.8,-114.2 -17.4,-114.5 -21.9,-113.8 -26.4,-112.1 -42.8,-102.0 -44.2,-99.0 -44.0,-89.9 -45.2,-85.4 -47.6,-82.5 -53.3,-77.8 -57.9,-70.2 -59.8,-68.7 -62.7,-67.5 -94.4,-62.0 -105.0,-58.6 -109.5,-57.7 -127.7,-58.4 -150.3,-58.5 -150.3,-150.3 -148.8,-150.3ZM-62.0,-91.4 -64.0,-89.9 -64.2,-88.4 -63.0,-86.9 -61.2,-86.3 -59.6,-86.9 -59.0,-88.4 -59.2,-89.9 -60.8,-91.4 -62.0,-91.4ZM-76.3,46.0 -71.8,46.4 -69.9,47.6 -69.0,49.1 -68.8,52.1 -69.8,58.2 -69.7,61.2 -68.5,64.2 -65.7,66.6 -62.7,66.9 -61.2,66.4 -51.8,59.7 -40.0,59.2 -38.3,58.2 -35.5,57.6 -27.9,57.9 -24.9,57.5 -22.9,58.2 -20.4,64.2 -17.4,68.9 -14.4,71.8 -9.8,74.2 -5.3,75.0 -2.3,74.5 5.3,69.1 8.3,68.0 12.8,69.0 15.9,71.3 18.4,74.8 19.9,77.8 21.4,85.4 20.9,92.9 16.6,106.5 16.0,111.0 16.6,114.1 20.0,121.6 20.6,124.6 20.4,150.3 7.7,150.3 7.5,126.1 8.7,114.1 7.6,111.0 6.4,109.5 4.3,108.0 2.3,107.7 0.8,108.5 -0.7,111.0 -1.4,115.6 -1.6,150.3 -150.3,150.3 -150.3,93.7 -123.1,93.7 -118.6,93.0 -115.6,91.5 -110.0,83.8 -103.5,79.1 -97.5,71.8 -88.4,67.0 -86.8,64.2 -85.1,55.1 -83.4,50.6 -80.6,47.6 -76.3,46.0Z"/>
<path fill="#ffa67f" fill-rule="evenodd" d="M-148.8,-150.3 -54.4,-150.3 -54.2,-115.6 -54.9,-109.5 -57.8,-103.5 -68.7,-95.9 -70.9,-92.9 -71.7,-89.9 -71.4,-88.4 -69.3,-85.4 -65.7,-82.8 -58.7,-79.3 -57.8,-76.3 -59.5,-71.8 -61.2,-70.2 -65.0,-68.7 -97.4,-64.4 -111.0,-60.4 -115.6,-60.3 -135.2,-61.7 -150.3,-61.8 -150.3,-150.3 -148.8,-150.3ZM-77.8,49.8 -74.8,49.3 -72.6,50.6 -71.8,53.6 -72.5,61.2 -72.3,64.2 -71.6,65.7 -68.7,67.8 -67.2,68.2 -61.2,66.9 -55.6,62.7 -50.6,59.9 -41.5,59.8 -35.5,58.0 -31.0,58.4 -24.9,58.1 -24.1,59.7 -25.4,62.7 -21.2,68.7 -17.1,73.3 -11.3,76.7 -6.8,78.2 -2.3,78.2 0.8,76.8 6.8,72.5 9.8,71.8 12.8,72.6 15.9,75.3 18.6,80.8 19.2,86.9 18.3,92.9 15.9,98.6 14.4,100.8 11.3,102.9 8.3,102.8 2.3,101.0 -0.8,101.6 -2.3,103.0 -4.0,106.5 -5.3,112.5 -6.6,123.1 -6.6,150.3 -150.3,150.3 -150.3,111.7 -138.2,111.5 -126.1,112.3 -123.1,111.7 -120.1,110.0 -114.6,103.5 -108.0,98.2 -103.0,91.4 -95.9,85.7 -91.2,77.8 -88.4,76.2 -79.6,74.8 -78.1,73.3 -77.9,70.2 -81.1,64.2 -82.3,58.2 -81.9,55.1 -80.8,52.5 -77.8,49.8ZM-54.4,65.7 -55.7,67.2 -55.1,67.9 -53.6,67.1 -53.1,65.7 -53.6,65.3 -54.4,65.7Z"/>
<path fill="#ff7b45" fill-rule="evenodd" d="M-148.8,-118.1 -126.1,-118.4 -121.6,-117.9 -118.6,-116.8 -114.8,-114.1 -109.5,-107.6 -103.3,-102.0 -87.2,-85.4 -83.8,-83.7 -74.8,-82.9 -66.1,-79.3 -63.5,-77.8 -62.1,-76.3 -61.8,-74.8 -62.2,-73.3 -64.2,-71.5 -68.7,-70.3 -89.9,-67.9 -100.5,-68.1 -105.0,-69.9 -111.2,-77.8 -119.8,-85.4 -123.1,-87.1 -127.7,-87.7 -136.7,-87.0 -150.3,-87.2 -150.3,-118.1 -148.8,-118.1ZM-38.5,59.6 -35.5,59.1 -26.2,59.7 -33.0,61.2 -27.9,65.6 -23.2,71.8 -18.9,76.0 -14.4,78.7 -8.3,81.3 -5.3,82.2 -2.3,82.3 0.8,80.8 6.8,76.2 9.8,75.3 12.9,76.3 14.5,77.8 16.2,80.8 17.1,85.4 16.6,89.9 14.7,94.4 12.8,96.6 11.3,97.6 8.3,97.9 2.3,95.7 -0.8,95.3 -3.8,97.0 -5.9,100.5 -7.3,105.0 -10.7,123.1 -10.6,150.3 -150.3,150.3 -150.3,118.5 -126.1,118.7 -121.6,118.3 -118.6,117.2 -115.6,115.1 -109.7,108.0 -103.5,102.7 -97.8,95.9 -92.4,91.4 -87.4,85.4 -85.4,83.7 -82.3,83.2 -80.1,83.8 -73.3,88.7 -71.8,89.1 -68.7,88.5 -67.3,86.9 -67.2,85.4 -69.7,79.3 -70.0,74.8 -69.4,73.3 -65.7,71.0 -64.2,68.6 -61.2,68.4 -61.2,69.5 -62.0,70.2 -55.1,72.8 -50.7,77.8 -49.1,78.7 -46.1,79.2 -43.1,78.5 -40.4,76.3 -40.1,73.3 -41.5,71.3 -48.1,67.2 -49.9,62.7 -50.6,62.3 -52.7,62.7 -52.1,61.2 -40.0,60.6 -38.5,59.6Z"/>
<path fill="#ff5019" fill-rule="evenodd" d="M-148.8,-111.2 -138.2,-111.0 -126.1,-111.6 -121.6,-110.4 -118.6,-108.2 -113.0,-102.0 -89.9,-79.9 -83.8,-77.1 -72.5,-76.3 -71.4,-74.8 -89.9,-71.9 -95.9,-72.4 -100.3,-74.8 -115.6,-90.2 -120.1,-93.3 -126.1,-94.6 -138.2,-94.0 -150.3,-94.2 -150.3,-111.2 -148.8,-111.2ZM-61.2,75.9 -59.7,76.3 -58.6,77.8 -58.3,79.3 -59.7,80.0 -61.2,79.4 -62.6,77.8 -62.4,76.3 -61.2,75.9ZM-31.0,75.8 -29.5,75.5 -27.9,76.0 -21.9,79.9 -12.8,84.1 -9.8,86.1 -8.1,88.4 -8.1,91.4 -10.7,99.0 -12.8,111.5 -16.5,124.6 -16.2,150.3 -78.6,150.3 -78.6,123.1 -77.6,120.1 -76.3,118.2 -70.2,113.4 -68.2,111.0 -67.2,108.0 -67.2,102.0 -66.4,99.0 -65.4,97.4 -58.6,91.4 -55.1,84.4 -53.6,83.9 -46.1,84.2 -40.0,83.0 -35.8,80.8 -31.0,75.8ZM9.8,79.2 11.3,79.5 12.9,80.8 14.3,83.8 14.4,86.9 12.6,91.4 10.5,92.9 8.3,93.1 5.3,91.7 3.8,90.3 2.7,88.4 2.5,86.9 3.6,83.8 5.3,81.7 8.3,79.5 9.8,79.2Z"/><path fill="#ffa67f" d="M-103.1,-74.2 -99.8,-78.0 -96.6,-81.2 -93.7,-83.8 -91.0,-85.8 -88.6,-87.2 -86.0,-88.8 -83.2,-90.6 -80.3,-92.5 -77.2,-94.7 -73.9,-96.7 -70.4,-98.7 -66.6,-100.6 -62.6,-102.5 -58.3,-103.9 -53.7,-104.8 -48.7,-105.2 -43.4,-105.2 -39.4,-104.3 -36.7,-102.5 -35.4,-99.7 -35.4,-96.0 -36.0,-92.7 -37.1,-89.8 -38.8,-87.3 -41.0,-85.1 -42.8,-83.2 -44.3,-81.4 -45.3,-79.8 -45.9,-78.5 -47.0,-77.1 -48.5,-75.7 -50.5,-74.3 -53.0,-72.9 -55.7,-71.6 -58.8,-70.2 -62.2,-68.8 -65.9,-67.4 -69.5,-66.2 -73.0,-65.1 -76.4,-64.2 -79.8,-63.4 -83.3,-63.0 -87.0,-62.9 -90.9,-63.2 -94.9,-63.8 -98.3,-64.5 -101.2,-65.3 -103.6,-66.1 -105.4,-67.0 -106.0,-68.7 -105.2,-71.1Z"/>
<path fill="#ffccb3" d="M-67.7,-98.8 -65.2,-99.4 -62.8,-99.8 -60.3,-100.0 -57.9,-99.9 -55.4,-99.6 -53.3,-99.0 -51.4,-98.3 -49.9,-97.3 -48.7,-96.0 -47.8,-94.7 -47.4,-93.1 -47.3,-91.4 -47.6,-89.6 -48.1,-87.8 -48.9,-86.1 -49.9,-84.5 -51.1,-83.0 -52.4,-81.6 -53.8,-80.4 -55.3,-79.3 -56.8,-78.4 -58.4,-77.8 -60.1,-77.5 -61.9,-77.5 -63.7,-77.8 -65.4,-78.3 -66.8,-79.1 -68.1,-80.1 -69.2,-81.3 -70.1,-82.7 -70.8,-84.2 -71.5,-85.9 -71.9,-87.8 -72.2,-89.6 -72.3,-91.4 -72.1,-93.3 -71.8,-95.1 -71.0,-96.7 -69.6,-97.9Z"/>
<path fill="#ffe9d9" d="M-63.4,-88.5 -62.2,-88.8 -61.1,-88.9 -60.2,-88.8 -59.4,-88.4 -58.8,-87.8 -58.5,-87.1 -58.5,-86.5 -58.8,-85.9 -59.4,-85.3 -60.1,-84.9 -61.0,-84.6 -61.9,-84.6 -63.0,-84.8 -63.9,-85.1 -64.5,-85.5 -64.9,-86.1 -65.0,-86.9 -64.8,-87.6 -64.3,-88.1Z"/>
<path fill="#ffe9d9" d="M-84.9,-63.2 -82.4,-63.4 -80.1,-63.7 -78.0,-64.0 -76.0,-64.4 -74.1,-64.9 -72.3,-65.4 -70.5,-65.9 -68.6,-66.5 -66.8,-67.1 -64.9,-67.7 -63.1,-68.4 -61.2,-69.0 -59.4,-69.6 -57.6,-70.2 -55.7,-70.8 -53.9,-71.4 -52.0,-72.0 -50.4,-72.6 -49.0,-73.1 -47.9,-73.6 -47.0,-74.1 -46.2,-74.3 -45.5,-74.2 -45.0,-73.8 -44.7,-73.1 -44.9,-72.4 -45.6,-71.8 -47.0,-71.1 -48.9,-70.4 -50.8,-69.8 -52.6,-69.1 -54.5,-68.5 -56.3,-67.9 -58.2,-67.2 -60.0,-66.6 -61.9,-66.0 -63.7,-65.4 -65.5,-64.8 -67.4,-64.2 -69.2,-63.6 -71.1,-63.0 -72.9,-62.4 -74.8,-61.8 -76.6,-61.3 -78.4,-60.9 -80.2,-60.5 -82.0,-60.2 -83.7,-60.0 -85.4,-59.8 -86.7,-59.9 -87.6,-60.2 -88.2,-60.8 -88.3,-61.6 -87.8,-62.3 -86.7,-62.8Z"/>
<path fill="#ff7b45" d="M-93.2,-82.8 -91.3,-83.5 -89.5,-83.9 -87.6,-84.1 -85.8,-84.1 -84.0,-84.0 -82.1,-83.7 -80.3,-83.3 -78.4,-82.8 -76.6,-82.2 -74.8,-81.5 -72.9,-80.8 -71.1,-79.9 -69.2,-79.0 -67.4,-78.2 -65.5,-77.5 -63.7,-76.9 -61.9,-76.5 -60.1,-76.2 -58.4,-76.2 -56.8,-76.5 -55.3,-76.9 -53.9,-77.4 -52.7,-78.0 -51.6,-78.5 -50.7,-79.2 -49.7,-79.7 -48.8,-80.3 -47.9,-80.8 -47.0,-81.2 -46.3,-81.3 -45.9,-80.9 -45.8,-80.1 -46.0,-78.9 -46.5,-77.7 -47.4,-76.6 -48.7,-75.6 -50.4,-74.7 -52.1,-73.9 -53.7,-73.1 -55.3,-72.4 -56.8,-71.8 -58.4,-71.2 -60.1,-70.6 -61.9,-69.9 -63.7,-69.3 -65.5,-68.7 -67.2,-68.1 -68.8,-67.5 -70.3,-66.9 -71.8,-66.3 -73.4,-65.8 -74.9,-65.3 -76.4,-64.8 -78.0,-64.4 -79.5,-64.0 -81.0,-63.7 -82.6,-63.4 -84.0,-63.2 -85.4,-63.1 -86.7,-63.1 -88.0,-63.3 -89.1,-63.6 -90.3,-64.2 -91.4,-64.9 -92.5,-65.8 -93.9,-66.6 -95.5,-67.3 -97.5,-67.8 -99.8,-68.3 -101.8,-68.6 -103.4,-68.9 -104.7,-69.2 -105.6,-69.4 -106.0,-69.9 -105.8,-70.7 -105.1,-71.9 -103.9,-73.5 -102.6,-75.0 -101.2,-76.5 -99.8,-78.1 -98.2,-79.6 -96.6,-80.9 -94.9,-82.0Z"/>
<path fill="#ffe9d9" d="M-108.4,-66.5 -106.8,-67.6 -105.1,-68.5 -103.1,-68.9 -100.8,-69.0 -98.4,-68.8 -96.2,-68.4 -94.2,-67.9 -92.4,-67.3 -90.9,-66.5 -89.4,-65.8 -88.0,-65.2 -86.7,-64.7 -85.5,-64.2 -84.7,-63.7 -84.2,-63.3 -84.1,-62.8 -84.4,-62.3 -85.3,-61.9 -86.6,-61.6 -88.6,-61.4 -91.0,-61.2 -93.5,-61.1 -95.9,-61.0 -98.4,-60.9 -100.8,-60.7 -103.1,-60.7 -105.1,-60.7 -106.8,-60.9 -108.4,-61.1 -109.5,-61.5 -110.3,-62.0 -110.7,-62.7 -110.7,-63.5 -110.3,-64.4 -109.5,-65.4Z"/>
<path fill="#d7eaff" d="M-105.9,-67.0 -104.4,-67.6 -102.8,-67.9 -101.1,-68.1 -99.3,-68.0 -97.5,-67.8 -95.7,-67.4 -94.0,-67.0 -92.4,-66.4 -90.9,-65.7 -89.8,-65.1 -89.2,-64.6 -89.0,-64.0 -89.3,-63.6 -89.9,-63.2 -90.6,-62.9 -91.6,-62.8 -92.9,-62.7 -94.2,-62.6 -95.8,-62.5 -97.5,-62.3 -99.3,-62.2 -101.1,-62.2 -102.8,-62.2 -104.4,-62.4 -105.9,-62.6 -107.1,-62.9 -107.8,-63.5 -108.2,-64.1 -108.2,-65.0 -107.8,-65.7 -107.1,-66.4Z"/>
<path fill="#ff5019" d="M-94.8,-80.8 -92.8,-81.2 -90.8,-81.5 -88.9,-81.7 -87.0,-81.7 -85.2,-81.5 -83.3,-81.3 -81.5,-80.9 -79.7,-80.4 -77.8,-79.8 -76.0,-79.1 -74.1,-78.3 -72.3,-77.5 -70.5,-76.5 -68.6,-75.8 -66.8,-75.2 -64.9,-74.7 -63.1,-74.4 -61.3,-74.2 -59.6,-74.2 -58.0,-74.4 -56.5,-74.7 -55.0,-75.1 -53.5,-75.6 -52.1,-76.1 -50.7,-76.7 -49.5,-77.5 -48.3,-78.6 -47.3,-79.9 -46.4,-81.5 -45.6,-82.5 -45.0,-83.1 -44.6,-83.3 -44.3,-83.0 -44.2,-82.4 -44.4,-81.5 -44.9,-80.2 -45.6,-78.7 -46.4,-77.4 -47.4,-76.3 -48.5,-75.3 -49.8,-74.6 -51.1,-74.0 -52.6,-73.4 -54.0,-72.8 -55.6,-72.3 -57.2,-71.7 -58.9,-71.2 -60.6,-70.6 -62.5,-69.9 -64.3,-69.4 -66.2,-68.8 -68.0,-68.3 -69.8,-67.9 -71.6,-67.5 -73.3,-67.1 -74.9,-66.7 -76.4,-66.4 -78.0,-66.3 -79.5,-66.2 -81.0,-66.3 -82.6,-66.6 -84.1,-66.8 -85.6,-67.1 -87.2,-67.4 -88.7,-67.7 -90.3,-68.0 -92.0,-68.3 -93.8,-68.6 -95.6,-68.9 -97.4,-69.2 -99.2,-69.5 -100.9,-69.7 -102.6,-69.9 -103.7,-70.4 -104.3,-71.1 -104.2,-72.1 -103.6,-73.3 -102.8,-74.6 -101.9,-75.8 -100.8,-77.0 -99.6,-78.2 -98.2,-79.3 -96.6,-80.1Z"/>
<path fill="#e63205" d="M-97.2,-78.8 -95.2,-79.2 -93.3,-79.4 -91.4,-79.4 -89.5,-79.3 -87.6,-78.9 -85.8,-78.6 -84.0,-78.1 -82.1,-77.6 -80.3,-76.9 -78.4,-76.3 -76.6,-75.7 -74.8,-75.1 -72.9,-74.5 -71.1,-74.0 -69.2,-73.6 -67.4,-73.2 -65.5,-73.0 -63.8,-73.0 -62.1,-73.0 -60.5,-73.2 -58.9,-73.5 -57.4,-73.8 -55.9,-74.3 -54.3,-74.7 -52.8,-75.2 -51.4,-75.9 -50.2,-76.7 -49.1,-77.5 -48.2,-78.6 -47.4,-79.3 -46.8,-79.7 -46.3,-79.8 -45.9,-79.7 -45.8,-79.4 -45.9,-78.8 -46.3,-78.1 -46.9,-77.2 -47.7,-76.3 -48.6,-75.5 -49.7,-74.8 -51.0,-74.1 -52.3,-73.5 -53.6,-72.9 -54.8,-72.4 -56.0,-72.0 -57.4,-71.6 -58.9,-71.1 -60.6,-70.6 -62.5,-70.1 -64.3,-69.7 -66.2,-69.2 -68.0,-68.8 -69.8,-68.4 -71.6,-68.1 -73.3,-67.8 -74.9,-67.6 -76.4,-67.4 -78.0,-67.4 -79.5,-67.5 -81.0,-67.6 -82.6,-68.0 -84.1,-68.2 -85.6,-68.5 -87.2,-68.8 -88.7,-69.0 -90.3,-69.3 -91.9,-69.5 -93.6,-69.7 -95.2,-69.9 -96.9,-70.1 -98.6,-70.3 -100.2,-70.5 -101.8,-70.6 -102.9,-71.0 -103.5,-71.6 -103.5,-72.5 -102.9,-73.6 -102.4,-74.6 -101.9,-75.5 -101.4,-76.3 -100.9,-77.1 -100.1,-77.8 -98.8,-78.3Z"/>
<path fill="#8b0000" d="M-102.4,-74.0 -101.4,-75.1 -100.2,-76.0 -98.9,-76.6 -97.5,-77.0 -95.9,-77.1 -94.2,-77.1 -92.5,-77.0 -90.7,-76.7 -88.9,-76.2 -87.1,-75.8 -85.4,-75.3 -83.8,-74.8 -82.3,-74.4 -80.7,-73.9 -79.2,-73.5 -77.7,-73.1 -76.1,-72.7 -74.6,-72.3 -73.1,-72.0 -71.5,-71.7 -70.0,-71.5 -68.5,-71.4 -66.9,-71.4 -65.4,-71.5 -63.9,-71.7 -62.3,-72.0 -60.8,-72.3 -59.3,-72.7 -57.7,-73.0 -56.3,-73.4 -54.9,-73.9 -53.6,-74.4 -52.3,-75.0 -51.3,-75.3 -50.6,-75.4 -50.0,-75.3 -49.7,-75.0 -49.8,-74.6 -50.3,-74.2 -51.1,-73.6 -52.3,-73.0 -53.6,-72.5 -55.0,-71.9 -56.5,-71.5 -58.0,-71.0 -59.6,-70.6 -61.1,-70.2 -62.6,-69.8 -64.2,-69.5 -65.7,-69.1 -67.2,-68.9 -68.8,-68.7 -70.3,-68.5 -71.8,-68.4 -73.4,-68.4 -74.9,-68.5 -76.4,-68.6 -78.0,-68.8 -79.5,-69.0 -81.0,-69.2 -82.6,-69.5 -84.1,-69.7 -85.6,-70.0 -87.2,-70.2 -88.7,-70.3 -90.3,-70.5 -91.8,-70.7 -93.3,-70.9 -94.9,-71.0 -96.4,-71.1 -97.9,-71.1 -99.5,-71.0 -101.0,-70.9 -102.2,-70.8 -103.0,-71.0 -103.5,-71.3 -103.7,-71.7 -103.5,-72.3 -103.1,-73.1Z"/>
<path fill="#ffccb3" d="M-110.7,-60.4 -108.7,-61.1 -106.5,-61.8 -104.0,-62.3 -101.2,-62.6 -98.1,-62.9 -95.5,-63.0 -93.4,-62.9 -91.9,-62.7 -90.8,-62.3 -90.1,-61.8 -89.7,-61.2 -89.6,-60.6 -89.9,-59.9 -90.5,-59.2 -91.4,-58.6 -92.5,-58.1 -93.9,-57.5 -95.4,-57.0 -97.0,-56.6 -98.7,-56.2 -100.5,-55.8 -102.5,-55.4 -104.5,-55.0 -106.5,-54.6 -108.7,-54.2 -110.5,-54.0 -111.9,-54.0 -113.0,-54.1 -113.8,-54.4 -114.3,-54.9 -114.5,-55.6 -114.5,-56.5 -114.2,-57.6 -113.5,-58.6 -112.3,-59.5Z"/>
<path fill="#ff5019" d="M-110.2,-58.5 -108.9,-59.1 -107.6,-59.7 -106.2,-60.1 -104.7,-60.4 -103.1,-60.7 -101.6,-60.9 -100.1,-61.1 -98.5,-61.3 -97.0,-61.4 -95.7,-61.5 -94.7,-61.4 -93.9,-61.2 -93.3,-60.8 -93.1,-60.5 -93.3,-60.1 -93.8,-59.7 -94.6,-59.2 -95.7,-58.8 -96.9,-58.5 -98.2,-58.1 -99.8,-57.8 -101.3,-57.5 -102.8,-57.2 -104.4,-56.9 -105.9,-56.6 -107.3,-56.4 -108.6,-56.2 -109.8,-56.1 -110.9,-56.1 -111.7,-56.2 -112.2,-56.4 -112.4,-56.7 -112.3,-57.1 -111.9,-57.5 -111.2,-58.0Z"/>
<path fill="#85aafc" d="M-62.8,54.4 -62.0,53.6 -61.1,53.1 -60.1,52.9 -59.0,52.9 -57.8,53.2 -56.5,53.5 -55.1,53.6 -53.6,53.7 -52.1,53.7 -50.8,53.9 -49.8,54.3 -49.1,54.9 -48.6,55.8 -48.6,56.5 -48.9,57.0 -49.6,57.5 -50.6,57.8 -51.7,58.2 -52.8,58.7 -53.9,59.3 -54.9,60.0 -56.0,60.7 -57.1,61.5 -58.2,62.3 -59.2,63.1 -60.3,63.9 -61.2,64.5 -62.1,65.0 -63.0,65.4 -63.7,65.5 -64.4,65.0 -64.9,64.2 -65.4,62.9 -65.5,61.7 -65.5,60.3 -65.2,59.0 -64.7,57.6 -64.1,56.4 -63.5,55.3Z"/>
<path fill="#d7eaff" d="M-62.5,57.5 -61.9,56.9 -61.1,56.6 -60.4,56.5 -59.6,56.6 -58.7,56.9 -58.3,57.3 -58.3,57.9 -58.7,58.5 -59.6,59.3 -60.4,60.0 -61.1,60.8 -61.9,61.5 -62.5,62.1 -63.1,62.5 -63.7,62.6 -64.1,62.4 -64.5,61.8 -64.7,61.3 -64.7,60.7 -64.5,60.0 -64.1,59.3 -63.7,58.6 -63.1,58.0Z"/>
<path fill="#e63205" d="M-63.5,67.2 -62.5,66.7 -61.3,66.0 -60.2,65.3 -59.0,64.5 -57.8,63.5 -56.5,62.7 -55.3,61.8 -54.1,61.1 -52.9,60.3 -51.8,59.8 -50.9,59.4 -50.1,59.2 -49.5,59.2 -48.9,59.3 -48.4,59.6 -48.0,60.0 -47.6,60.4 -47.7,61.1 -48.2,61.8 -49.0,62.7 -50.3,63.6 -51.6,64.6 -52.8,65.4 -54.1,66.2 -55.3,67.0 -56.5,67.6 -57.8,68.2 -59.0,68.8 -60.2,69.3 -61.4,69.7 -62.5,69.9 -63.5,70.0 -64.4,70.0 -65.0,69.9 -65.4,69.7 -65.5,69.3 -65.4,68.8 -65.0,68.3 -64.4,67.8Z"/>
<path fill="#be2307" d="M-60.4,66.2 -59.1,65.3 -57.9,64.4 -56.7,63.6 -55.5,62.8 -54.5,62.0 -53.5,61.5 -52.7,61.2 -51.9,61.0 -51.3,61.1 -51.1,61.4 -51.4,61.9 -52.0,62.7 -53.1,63.6 -54.2,64.6 -55.4,65.4 -56.5,66.2 -57.8,67.0 -58.9,67.5 -59.8,67.8 -60.6,67.9 -61.3,67.8 -61.5,67.4 -61.2,66.9Z"/>
<path fill="#ffccb3" d="M-52.9,69.0 -51.6,68.5 -50.4,68.3 -49.2,68.4 -48.0,68.7 -46.7,69.3 -45.8,70.1 -45.3,71.0 -45.1,72.1 -45.3,73.3 -45.6,74.4 -46.3,75.3 -47.1,76.1 -48.2,76.7 -49.3,77.0 -50.3,77.0 -51.4,76.7 -52.5,76.1 -53.3,75.3 -53.9,74.3 -54.3,73.1 -54.5,71.7 -54.3,70.6 -53.7,69.7Z"/>
<path fill="#b4cdfc" d="M24.1,54.6 26.1,53.4 28.0,52.6 29.7,52.1 31.4,52.1 32.9,52.4 33.6,53.0 33.5,53.8 32.6,54.9 30.8,56.2 29.4,57.8 28.2,59.5 27.3,61.5 26.6,63.8 26.1,66.0 25.6,68.2 25.3,70.5 25.1,72.7 24.8,74.9 24.5,77.1 24.0,79.3 23.6,81.5 23.2,83.6 22.9,85.6 22.6,87.5 22.5,89.3 22.4,91.0 22.3,92.5 22.2,94.0 22.1,95.4 21.4,96.4 20.1,97.0 18.1,97.2 15.6,97.1 13.5,96.7 11.9,96.0 10.8,95.0 10.1,93.8 9.6,92.4 9.4,90.9 9.3,89.3 9.5,87.5 9.8,85.7 10.3,83.9 10.9,82.2 11.8,80.4 12.6,78.6 13.4,76.8 14.3,75.1 15.1,73.3 15.9,71.5 16.5,69.5 17.1,67.4 17.5,65.1 18.0,63.1 18.6,61.3 19.3,59.8 20.0,58.4 21.0,57.2 22.4,55.9Z"/>
<path fill="#ff5019" d="M6.2,83.6 7.1,82.4 8.0,81.1 8.8,79.9 9.7,78.7 10.5,77.5 11.3,76.2 12.0,74.8 12.6,73.3 13.2,71.8 13.7,70.3 14.2,68.9 14.7,67.6 15.2,66.4 15.6,65.9 15.9,66.0 16.1,66.9 16.3,68.4 16.2,70.0 16.1,71.7 15.7,73.5 15.3,75.3 14.7,77.0 14.1,78.5 13.3,79.9 12.5,81.1 11.7,82.3 11.0,83.4 10.3,84.5 9.6,85.4 9.1,86.5 8.8,87.5 8.7,88.7 8.7,89.8 8.9,91.0 9.1,92.2 9.5,93.3 9.9,94.5 10.3,95.5 10.7,96.3 11.0,96.9 11.3,97.3 11.4,97.6 11.2,97.8 10.8,97.9 10.1,97.8 9.4,97.5 8.7,96.8 7.9,95.9 7.1,94.7 6.5,93.3 6.0,91.7 5.5,90.1 5.2,88.2 5.2,86.5 5.5,85.0Z"/>
<path fill="#e63205" d="M7.1,85.2 7.9,84.1 8.7,83.0 9.4,81.9 10.1,80.8 10.8,79.7 11.3,79.1 11.7,78.9 12.0,79.2 12.1,80.0 12.0,80.8 11.7,81.8 11.3,82.8 10.6,83.8 10.1,84.9 9.7,86.1 9.5,87.3 9.3,88.5 9.3,89.7 9.3,90.9 9.5,92.0 9.8,93.0 10.0,93.9 9.9,94.5 9.6,94.9 9.1,95.0 8.7,94.9 8.2,94.5 7.7,93.9 7.1,93.0 6.7,92.0 6.4,90.9 6.2,89.8 6.1,88.7 6.3,87.5 6.6,86.4Z"/></g>
<use href="#coast" x="235.4" y="245.25"/>
</g>
<circle cx="235.4" cy="245.25" r="126.9" fill="none" stroke="#000" stroke-width="1"/>
<g clip-path="url(#clip2)">
<rect x="366.3" y="117.3" width="255.8" height="255.8" fill="#00008f"/>
<g transform="translate(494.2,245.25)"><path fill="#0019b9" fill-rule="evenodd" d="M-148.8,-150.3 150.3,-150.3 150.3,-99.3 126.1,-99.6 121.6,-98.5 118.6,-96.0 114.1,-90.4 107.8,-85.4 102.0,-78.3 99.0,-76.3 92.9,-73.3 91.4,-72.0 90.3,-70.2 89.7,-67.2 91.3,-55.1 92.9,-52.1 94.3,-50.6 97.4,-48.8 102.0,-47.8 112.5,-46.9 117.1,-45.4 123.1,-42.6 126.1,-41.9 136.7,-42.9 150.3,-42.7 150.3,150.3 -150.3,150.3 -150.3,-150.3 -148.8,-150.3ZM49.0,-61.2 45.5,-58.2 43.6,-53.6 43.2,-49.1 44.6,-45.8 47.6,-43.7 52.1,-42.9 61.2,-43.1 65.0,-44.6 66.8,-47.6 67.7,-52.1 67.3,-56.7 65.7,-59.0 62.7,-60.9 58.2,-61.9 53.6,-62.2 49.0,-61.2ZM-25.5,23.4 -27.3,26.4 -28.1,31.0 -27.8,32.5 -26.8,34.0 -24.9,34.4 -23.4,33.8 -21.9,32.4 -20.6,29.5 -20.3,26.4 -21.9,22.9 -23.4,22.3 -25.5,23.4Z"/>
<path fill="#002fde" fill-rule="evenodd" d="M-148.8,-150.3 150.3,-150.3 150.3,-106.2 123.1,-105.9 117.1,-105.0 114.1,-102.5 110.1,-95.9 103.5,-91.0 97.4,-83.4 94.4,-81.8 88.4,-80.6 85.4,-79.3 77.8,-70.9 73.3,-68.2 67.2,-67.0 52.1,-66.9 46.1,-65.8 41.5,-62.7 35.5,-55.8 32.5,-54.1 29.5,-53.9 17.4,-55.5 3.8,-54.6 -0.8,-53.8 -3.8,-52.0 -8.3,-45.2 -11.3,-42.9 -14.4,-42.2 -23.4,-42.3 -26.4,-41.5 -28.1,-40.0 -32.5,-33.3 -34.0,-31.9 -37.0,-30.5 -41.5,-30.0 -55.1,-31.5 -61.2,-30.3 -64.4,-27.9 -69.7,-20.4 -76.3,-14.6 -81.7,-8.3 -88.3,-2.3 -90.5,2.3 -90.9,6.8 -89.9,12.3 -87.3,15.9 -83.8,17.3 -74.8,17.8 -70.2,19.0 -67.4,21.9 -65.7,27.9 -64.7,29.5 -61.2,31.8 -56.7,32.7 -52.1,31.7 -49.1,29.0 -45.8,24.9 -43.7,20.4 -42.8,12.8 -41.5,9.6 -38.5,7.4 -35.5,7.3 -34.0,7.9 -32.0,9.8 -31.4,11.3 -31.3,14.4 -33.4,23.4 -34.0,33.5 -34.7,37.0 -35.5,38.8 -37.0,39.9 -41.2,41.5 -41.2,43.1 -38.5,43.3 -34.0,41.0 -23.4,38.7 -20.6,37.0 -18.9,35.3 -16.1,29.5 -14.7,23.4 -14.9,18.9 -16.2,12.8 -16.0,9.8 -15.1,8.3 -12.8,6.8 -9.8,6.3 -3.8,6.6 -0.8,6.0 2.3,4.0 8.3,-2.8 11.3,-4.6 14.4,-5.5 31.0,-5.8 41.5,-4.2 44.6,-4.5 47.6,-6.3 55.1,-13.6 58.2,-15.3 62.7,-16.4 71.8,-17.1 75.6,-18.9 77.1,-20.4 77.9,-23.4 74.7,-34.0 74.6,-41.5 76.3,-48.0 77.8,-50.5 79.3,-51.8 80.8,-52.3 83.8,-51.7 91.4,-46.9 95.9,-44.8 109.5,-42.3 113.9,-40.0 115.3,-38.5 116.6,-35.5 115.7,-26.4 117.1,-24.1 120.5,-21.9 126.1,-20.7 138.2,-21.2 150.3,-21.1 150.3,150.3 -150.3,150.3 -150.3,-150.3 -148.8,-150.3Z"/>
<path fill="#1a4dfa" fill-rule="evenodd" d="M-148.8,-150.3 118.6,-150.3 118.7,-124.6 118.1,-120.1 116.9,-117.1 115.6,-115.5 108.0,-110.2 103.5,-103.5 102.0,-102.1 95.9,-98.1 90.9,-89.9 82.3,-85.3 73.3,-75.7 68.7,-73.1 64.2,-71.6 59.7,-70.9 44.6,-70.2 40.0,-69.0 31.0,-65.3 13.1,-65.7 3.8,-67.7 -2.3,-67.0 -14.1,-62.7 -16.2,-61.2 -20.4,-56.6 -22.8,-55.1 -26.4,-54.7 -35.5,-55.2 -38.5,-54.3 -40.7,-52.1 -43.0,-46.1 -44.6,-43.7 -46.1,-42.6 -49.1,-41.5 -59.7,-40.9 -80.8,-43.2 -88.4,-42.0 -97.4,-39.5 -100.5,-37.6 -101.9,-35.5 -102.8,-26.4 -104.6,-21.9 -111.8,-15.9 -113.9,-12.8 -115.0,-8.3 -115.5,6.8 -114.5,11.3 -112.6,14.4 -99.5,27.9 -95.3,31.0 -89.9,32.3 -77.8,32.0 -71.8,33.2 -55.7,38.5 -53.2,40.0 -48.8,44.6 -46.1,46.3 -41.5,47.7 -37.0,47.4 -18.9,39.3 -15.6,35.5 -9.8,23.3 -6.8,18.8 -3.8,16.7 4.9,12.8 12.8,6.3 17.4,4.9 35.5,6.4 44.6,5.9 49.1,3.1 55.1,-5.1 59.0,-8.3 62.7,-9.6 74.8,-10.6 79.3,-12.4 83.8,-15.2 87.4,-18.9 88.1,-21.9 86.5,-24.9 81.2,-31.0 79.8,-34.0 79.2,-37.0 79.5,-40.0 80.8,-42.9 82.3,-44.2 83.8,-44.8 86.9,-44.6 95.9,-41.4 106.8,-38.5 108.8,-37.0 109.8,-34.0 106.9,-26.4 106.9,-24.9 107.7,-23.4 111.9,-20.4 121.6,-15.2 124.6,-14.2 127.7,-14.0 138.2,-14.9 150.3,-14.7 150.3,150.3 -150.3,150.3 -150.3,-150.3 -148.8,-150.3Z"/>
<path fill="#4577fb" fill-rule="evenodd" d="M-148.8,-150.3 111.8,-150.3 111.6,-138.2 112.3,-126.1 111.8,-123.1 109.9,-120.1 103.9,-115.6 98.2,-108.0 90.4,-103.5 85.4,-95.1 77.8,-90.7 71.8,-81.0 68.7,-78.7 63.0,-76.3 56.7,-75.2 47.6,-75.3 41.4,-76.3 32.5,-79.0 23.4,-80.8 18.9,-81.5 15.9,-81.3 12.8,-80.1 5.3,-75.2 -9.8,-70.8 -20.4,-68.6 -29.5,-64.0 -34.0,-63.5 -41.5,-65.1 -44.6,-65.2 -55.1,-58.7 -80.8,-52.0 -92.9,-47.1 -99.0,-45.5 -106.5,-44.9 -117.1,-47.0 -123.1,-47.6 -150.3,-47.5 -150.3,-150.3 -148.8,-150.3ZM86.9,-38.7 90.9,-38.5 97.4,-36.3 99.2,-35.5 100.5,-34.1 100.6,-32.5 99.5,-31.0 97.3,-29.5 94.4,-29.0 91.4,-29.8 88.4,-31.4 85.9,-34.0 85.3,-37.0 86.9,-38.7ZM99.0,-17.6 102.0,-18.2 105.0,-18.0 111.0,-16.2 116.4,-12.8 123.1,-6.2 126.1,-5.1 138.2,-6.8 150.3,-6.3 150.3,22.0 126.1,22.2 118.6,21.5 108.0,18.3 99.0,17.9 95.9,17.1 92.9,15.1 87.0,8.3 83.8,6.9 79.3,6.4 65.7,7.8 62.7,7.4 59.7,5.9 58.5,3.8 58.5,2.3 59.6,-0.8 61.2,-2.4 64.2,-3.7 74.8,-4.0 80.8,-5.7 88.4,-9.4 95.9,-15.8 99.0,-17.6ZM26.4,17.4 34.0,15.9 37.0,16.1 40.0,17.1 43.1,19.5 47.6,24.6 50.6,26.9 53.6,28.3 59.7,29.9 62.7,31.4 68.8,40.0 76.7,46.1 83.8,50.0 92.9,53.0 95.9,53.4 99.0,52.5 105.6,44.6 108.0,43.0 111.0,42.0 115.6,41.6 150.3,41.8 150.3,150.3 -150.3,150.3 -150.3,18.8 -136.7,19.0 -126.1,18.3 -121.6,19.3 -117.1,21.9 -113.4,24.9 -102.0,38.2 -99.0,40.2 -95.9,40.1 -85.4,37.1 -77.8,36.4 -68.7,37.5 -59.7,40.3 -58.4,41.5 -58.6,43.1 -60.4,46.1 -65.0,56.7 -64.5,62.7 -62.7,64.3 -59.7,62.7 -56.7,59.9 -52.1,57.2 -41.5,57.0 -35.5,54.6 -32.5,55.5 -26.4,55.2 -22.9,49.1 -19.1,44.6 -15.8,41.5 -8.3,27.9 -3.8,23.6 0.8,21.5 6.8,20.0 12.8,19.1 20.4,18.9 26.4,17.4Z"/>
<path fill="#85aafc" fill-rule="evenodd" d="M-148.8,-150.3 95.1,-150.3 94.9,-120.1 94.2,-117.1 92.3,-114.1 85.0,-109.5 78.9,-102.0 71.8,-96.1 70.2,-92.9 68.7,-87.9 67.2,-85.2 64.2,-82.9 61.2,-81.7 53.6,-80.6 47.6,-81.7 44.1,-83.8 40.0,-88.6 38.5,-89.7 37.0,-89.9 26.4,-86.2 17.4,-85.7 12.8,-84.8 3.8,-78.9 -0.8,-77.2 -8.3,-75.9 -23.4,-75.2 -34.0,-70.5 -41.5,-71.1 -44.6,-70.7 -47.6,-69.1 -53.6,-63.6 -58.2,-61.2 -82.3,-56.0 -94.4,-50.8 -99.0,-49.5 -106.5,-48.9 -124.6,-51.0 -150.3,-51.0 -150.3,-150.3 -148.8,-150.3ZM103.5,-11.7 105.0,-12.2 108.0,-12.0 111.8,-9.8 113.8,-6.8 115.9,0.8 117.1,2.6 119.1,3.8 126.1,4.7 150.3,4.5 150.3,15.1 126.1,15.4 121.6,14.7 118.6,13.4 112.5,7.5 105.1,3.8 102.5,0.8 100.6,-3.8 100.3,-6.8 101.3,-9.8 103.5,-11.7ZM31.0,22.9 35.5,22.3 40.0,24.3 47.2,31.0 51.0,35.5 51.6,37.0 51.3,40.0 47.5,46.1 46.3,49.1 46.3,52.1 47.6,54.0 50.6,55.5 53.6,55.8 65.7,53.6 71.8,53.9 83.8,57.6 87.3,59.7 88.6,61.2 88.9,64.2 88.0,65.7 81.6,70.2 78.9,73.3 77.5,77.8 78.0,82.3 80.8,87.2 87.3,92.9 105.0,111.4 111.4,117.1 113.6,120.1 114.9,126.1 114.6,150.3 91.0,150.3 90.9,138.2 91.5,126.1 90.6,121.6 88.8,118.6 82.2,112.5 76.3,106.0 73.3,103.9 70.2,103.0 61.2,102.3 53.6,100.5 50.6,101.5 49.1,102.8 47.6,105.0 47.1,108.0 48.6,111.0 55.4,117.1 57.6,121.6 58.1,126.1 57.8,150.3 -150.3,150.3 -150.3,29.3 -138.2,29.5 -126.1,28.8 -121.6,29.8 -117.1,33.0 -103.8,49.1 -100.5,51.1 -99.0,51.0 -97.4,50.2 -92.7,44.6 -89.9,42.2 -83.8,39.8 -79.3,39.1 -73.3,39.2 -67.2,40.3 -63.2,41.5 -61.2,42.8 -61.2,44.6 -63.4,50.6 -65.8,55.1 -66.0,59.7 -65.6,62.7 -64.2,64.7 -62.7,65.1 -52.1,58.2 -41.5,57.9 -35.5,55.5 -32.5,56.4 -27.9,56.4 -26.4,55.9 -25.5,55.1 -22.9,50.6 -18.9,46.0 -13.3,41.5 -6.8,31.0 -2.3,27.4 0.8,26.3 5.3,25.9 15.9,28.2 18.9,28.4 23.4,27.0 31.0,22.9Z"/>
<path fill="#b4cdfc" fill-rule="evenodd" d="M-148.8,-150.3 90.4,-150.3 90.6,-124.6 89.9,-121.0 88.4,-118.1 81.8,-112.5 75.2,-105.0 69.8,-100.5 67.3,-97.4 63.0,-89.9 59.7,-87.7 55.1,-87.0 52.1,-87.7 48.9,-89.9 44.9,-95.9 43.4,-97.4 41.5,-98.2 38.5,-98.2 35.5,-96.9 29.5,-92.0 26.4,-90.2 23.4,-89.3 11.3,-87.3 2.3,-81.7 -0.8,-80.6 -6.8,-80.2 -18.9,-81.9 -27.9,-81.7 -31.0,-81.0 -37.0,-77.1 -44.6,-74.6 -47.1,-73.3 -54.8,-65.7 -58.2,-63.6 -64.2,-61.7 -83.8,-58.6 -99.0,-52.7 -106.5,-51.7 -123.1,-53.3 -150.3,-53.3 -150.3,-150.3 -148.8,-150.3ZM34.0,27.8 38.5,28.8 42.5,32.5 44.2,35.5 44.1,40.0 41.5,45.0 37.0,51.5 34.0,53.6 29.5,55.2 26.4,57.0 24.7,59.7 24.5,62.7 25.3,65.7 27.9,69.7 29.5,70.5 31.0,70.5 37.0,68.6 40.0,68.7 41.5,69.5 43.1,71.4 44.9,76.3 46.5,83.8 46.9,91.4 45.7,95.9 40.3,106.5 39.9,111.0 41.4,114.1 49.1,120.0 51.0,123.1 51.5,127.7 50.7,136.7 50.9,150.3 -150.3,150.3 -150.3,54.9 -125.5,55.1 -114.1,52.4 -111.0,53.1 -105.0,57.1 -100.5,57.9 -97.4,57.0 -95.9,56.0 -94.4,54.2 -90.9,47.6 -86.9,43.7 -80.8,41.6 -71.8,41.6 -65.9,43.1 -63.4,44.6 -63.2,47.6 -66.4,55.1 -66.6,59.7 -66.2,62.7 -64.2,65.7 -62.7,65.8 -59.7,64.2 -56.7,61.4 -52.1,58.6 -41.5,58.4 -35.5,56.1 -32.5,56.9 -26.4,56.6 -24.7,55.1 -22.1,50.6 -20.4,49.1 -17.4,46.9 -14.4,46.0 -11.3,44.2 -5.3,34.2 -0.8,31.0 2.3,30.4 5.3,30.7 14.4,33.9 18.9,34.5 23.4,33.3 31.0,28.7 34.0,27.8Z"/>
<path fill="#d7eaff" fill-rule="evenodd" d="M-148.8,-150.3 85.6,-150.3 85.9,-126.1 85.4,-123.1 83.8,-120.6 77.8,-115.1 72.2,-108.0 65.7,-102.7 61.2,-96.4 58.2,-94.0 55.1,-94.2 53.6,-95.2 49.1,-102.5 47.6,-103.5 44.6,-104.1 40.0,-103.6 35.5,-101.7 27.2,-94.4 23.4,-92.3 9.8,-89.7 0.8,-84.8 -2.3,-84.0 -5.3,-84.2 -14.4,-87.5 -21.9,-89.3 -29.5,-92.5 -32.5,-92.4 -35.5,-90.2 -38.5,-83.8 -40.7,-80.8 -49.1,-75.2 -56.7,-66.7 -61.2,-64.4 -65.7,-63.3 -82.9,-61.2 -99.0,-55.6 -105.0,-54.4 -124.6,-55.5 -150.3,-55.5 -150.3,-150.3 -148.8,-150.3ZM0.8,35.3 5.3,35.6 14.4,39.5 18.9,40.3 24.9,39.2 31.1,35.5 34.0,34.4 35.5,34.6 37.0,35.5 37.8,37.0 37.6,40.0 35.5,43.5 32.5,46.4 26.4,49.9 23.4,52.3 21.5,55.1 20.5,58.2 20.5,62.7 24.1,74.8 25.2,83.8 26.4,89.0 27.9,91.2 29.5,91.7 31.0,90.5 35.5,82.4 37.0,81.9 38.5,82.8 39.8,85.4 40.5,89.9 40.0,93.5 38.5,96.9 29.5,109.9 21.9,117.6 19.4,121.6 18.6,126.1 19.2,138.2 19.0,150.3 -150.3,150.3 -150.3,84.7 -138.2,84.5 -127.7,85.2 -124.6,84.9 -122.1,83.8 -115.6,77.1 -108.8,71.8 -103.5,64.7 -95.9,60.7 -92.9,58.2 -87.4,47.6 -85.4,45.7 -82.3,44.2 -77.8,43.4 -73.3,43.5 -68.7,44.5 -65.7,46.2 -64.9,47.6 -65.0,49.1 -67.1,55.1 -67.1,61.2 -66.8,62.7 -64.9,65.7 -62.7,66.1 -59.7,64.6 -56.7,61.8 -52.1,59.0 -41.5,58.7 -35.5,56.6 -32.5,57.2 -26.4,57.0 -24.2,55.1 -23.4,53.5 -20.4,50.2 -17.4,49.3 -11.3,49.0 -8.8,47.6 -6.8,44.9 -3.7,38.5 -2.3,36.9 0.8,35.3Z"/>
<path fill="#ffe9d9" fill-rule="evenodd" d="M-148.8,-150.3 57.9,-150.3 57.7,-123.1 56.5,-118.6 52.8,-114.1 49.1,-111.8 38.5,-107.8 34.0,-105.5 31.0,-103.1 24.9,-96.7 20.4,-94.3 8.3,-92.5 -2.3,-89.5 -5.3,-90.2 -14.4,-94.6 -17.4,-96.7 -21.9,-101.0 -23.4,-101.6 -27.9,-101.5 -38.5,-98.9 -40.8,-97.4 -41.5,-95.9 -41.8,-88.4 -43.4,-83.8 -50.6,-77.6 -57.1,-68.7 -59.7,-66.9 -62.7,-65.6 -83.8,-63.1 -100.5,-58.1 -106.5,-57.0 -126.1,-57.8 -150.3,-57.9 -150.3,-150.3 -148.8,-150.3ZM0.8,42.8 3.8,41.9 6.8,42.6 14.0,46.1 16.7,49.1 16.9,59.7 21.0,74.8 23.9,99.0 23.3,103.5 22.0,106.5 20.4,108.6 17.4,110.9 12.8,111.6 3.8,108.5 1.0,109.5 0.1,111.0 -0.9,117.1 -0.9,150.3 -150.3,150.3 -150.3,88.9 -126.1,89.2 -123.1,88.8 -120.1,87.6 -112.5,79.6 -106.5,74.6 -100.6,67.2 -91.1,61.2 -89.2,58.2 -87.1,52.1 -85.4,49.1 -83.7,47.6 -80.8,46.2 -74.8,45.5 -71.8,46.1 -68.7,47.7 -67.3,50.6 -68.3,56.7 -67.6,62.7 -65.6,65.7 -64.2,66.5 -62.7,66.5 -59.7,65.0 -56.7,62.3 -52.1,59.4 -41.5,59.1 -35.5,57.0 -32.5,57.6 -26.4,57.4 -20.4,51.8 -11.3,53.1 -8.3,52.9 -4.6,50.6 0.8,42.8Z"/>
<path fill="#ffccb3" fill-rule="evenodd" d="M-148.8,-150.3 -51.3,-150.3 -51.1,-114.1 -53.9,-95.9 -54.3,-94.4 -55.1,-93.6 -59.7,-93.0 -62.7,-91.6 -64.0,-89.9 -64.2,-88.4 -63.3,-86.9 -61.2,-85.5 -56.7,-85.2 -55.0,-86.9 -53.6,-92.2 -52.1,-92.5 -49.1,-90.9 -47.9,-88.4 -48.9,-85.4 -52.1,-82.9 -53.5,-80.8 -56.1,-73.3 -58.2,-70.2 -61.2,-68.1 -64.2,-66.9 -82.3,-65.3 -99.0,-61.5 -106.5,-60.4 -115.6,-60.2 -136.7,-61.3 -150.3,-61.4 -150.3,-150.3 -148.8,-150.3ZM-40.0,-150.3 -19.0,-150.3 -18.7,-126.1 -19.9,-120.1 -22.8,-115.6 -27.4,-111.0 -31.8,-108.0 -35.5,-107.0 -38.5,-107.7 -40.0,-108.9 -41.8,-112.5 -41.8,-115.6 -40.3,-124.6 -40.5,-150.3 -40.0,-150.3ZM-3.8,-150.3 51.0,-150.3 50.8,-138.2 51.4,-126.1 50.3,-121.6 49.1,-119.8 46.1,-117.4 35.5,-112.9 31.0,-110.2 27.9,-107.1 23.2,-100.5 20.4,-98.3 17.4,-97.2 14.4,-96.8 8.3,-97.6 6.6,-99.0 5.8,-100.5 5.4,-106.5 4.4,-109.5 -2.3,-117.1 -4.3,-121.6 -4.9,-126.1 -4.6,-150.3 -3.8,-150.3ZM-80.8,49.0 -76.3,48.0 -73.3,48.5 -71.8,49.4 -70.2,52.1 -69.9,59.7 -68.9,62.7 -66.8,65.7 -64.2,66.9 -61.2,66.3 -51.8,59.7 -40.0,59.2 -38.3,58.2 -35.5,57.5 -26.4,57.8 -24.2,56.7 -21.9,54.5 -18.9,54.6 -8.3,58.8 -3.8,57.9 2.3,53.4 5.3,52.0 8.3,52.4 11.1,55.1 17.4,70.6 19.0,76.3 20.6,91.4 20.4,99.0 18.5,103.5 17.1,105.0 14.4,106.4 11.3,106.5 2.3,104.0 -0.8,104.8 -2.3,106.6 -3.8,111.0 -4.5,117.1 -4.7,150.3 -150.3,150.3 -150.3,92.1 -126.1,92.3 -121.6,91.8 -118.6,90.8 -115.7,88.4 -111.0,82.3 -103.7,76.3 -99.0,70.0 -95.9,67.8 -89.9,64.9 -88.4,63.7 -86.8,61.2 -84.0,52.1 -80.8,49.0Z"/>
<path fill="#ffa67f" fill-rule="evenodd" d="M-148.8,-150.3 -58.1,-150.3 -57.9,-114.1 -58.7,-106.5 -59.8,-103.5 -61.2,-101.4 -67.2,-96.9 -69.6,-94.4 -71.1,-89.9 -70.3,-86.9 -69.1,-85.4 -59.7,-79.4 -58.5,-77.8 -58.3,-74.8 -59.7,-71.8 -62.7,-69.5 -65.7,-68.5 -80.8,-67.5 -94.4,-65.1 -100.5,-64.9 -103.5,-65.7 -105.0,-66.6 -110.5,-74.8 -120.1,-83.7 -123.1,-85.5 -127.7,-86.2 -136.7,-85.5 -150.3,-85.7 -150.3,-150.3 -148.8,-150.3ZM5.3,-150.3 18.9,-150.3 19.0,-124.6 17.4,-119.6 14.4,-117.2 11.3,-117.2 8.2,-118.6 5.3,-121.5 4.1,-124.6 3.9,-127.7 4.8,-138.2 4.5,-150.3 5.3,-150.3ZM-77.8,51.6 -74.8,52.0 -73.5,53.6 -72.3,61.2 -71.1,64.2 -68.7,66.6 -65.7,67.7 -61.2,66.9 -55.7,62.7 -50.6,59.9 -41.5,59.8 -35.5,57.9 -27.9,58.4 -21.9,57.0 -18.9,58.4 -16.2,61.2 -15.2,64.2 -15.0,68.7 -14.4,70.8 -12.8,72.6 -9.8,73.9 -6.8,73.7 -5.3,73.0 0.8,65.3 3.8,62.8 6.8,62.1 8.3,62.6 11.3,65.2 15.2,71.8 17.4,78.8 18.5,89.9 17.9,97.4 15.9,101.2 12.8,102.9 9.8,102.9 0.8,100.1 -2.3,100.9 -4.3,103.5 -6.3,109.5 -7.6,120.1 -7.8,150.3 -150.3,150.3 -150.3,95.9 -123.1,95.9 -118.6,95.4 -115.6,94.3 -112.6,91.4 -108.9,85.4 -101.1,79.3 -95.9,72.1 -92.9,70.4 -86.9,68.6 -84.8,67.2 -83.2,64.2 -81.5,55.1 -79.3,52.2 -77.8,51.6Z"/>
<path fill="#ff7b45" fill-rule="evenodd" d="M-148.8,-150.3 -102.8,-150.3 -103.0,-126.1 -101.9,-120.1 -99.7,-117.1 -92.9,-111.9 -86.9,-105.0 -80.8,-100.5 -79.0,-97.4 -79.0,-89.9 -77.7,-86.9 -74.3,-83.8 -63.6,-77.8 -62.2,-76.3 -61.8,-74.8 -62.7,-72.7 -64.2,-71.4 -68.4,-70.2 -80.8,-69.8 -92.9,-68.1 -97.4,-68.3 -101.0,-70.2 -105.8,-76.3 -117.1,-87.2 -121.6,-90.2 -126.1,-91.0 -138.2,-90.5 -150.3,-90.6 -150.3,-150.3 -148.8,-150.3ZM-38.5,59.6 -35.5,58.9 -24.9,58.9 -23.8,59.7 -21.1,64.2 -20.9,70.2 -20.2,73.3 -17.4,76.3 -12.8,78.4 -6.8,80.0 -3.8,79.8 -0.8,77.3 3.8,71.3 6.8,69.5 9.8,70.2 11.3,71.4 12.8,73.3 14.9,77.8 15.9,82.3 16.5,89.9 16.1,94.4 14.4,98.1 12.8,99.3 9.8,99.7 6.8,98.8 0.8,95.6 -2.3,95.2 -5.3,97.7 -7.4,102.0 -8.8,108.0 -11.1,123.1 -11.1,150.3 -150.3,150.3 -150.3,111.9 -138.2,111.6 -126.1,112.5 -121.6,111.2 -119.7,109.5 -115.6,103.9 -108.0,98.2 -103.5,90.2 -97.4,86.9 -95.7,85.4 -92.3,77.8 -90.7,76.3 -88.4,75.5 -80.8,74.3 -78.7,73.3 -74.8,69.4 -73.3,69.2 -67.2,70.4 -65.7,70.2 -64.2,68.6 -61.2,68.2 -60.4,68.7 -59.9,70.2 -58.2,69.9 -55.1,68.6 -52.2,65.7 -51.5,64.2 -53.8,62.7 -52.1,61.2 -40.0,60.4 -38.5,59.6ZM-56.7,65.0 -56.7,65.9 -57.8,65.7 -56.7,65.0ZM-59.7,67.1 -58.2,65.9 -58.2,67.6 -59.7,67.7 -59.7,67.1Z"/>
<path fill="#ff5019" fill-rule="evenodd" d="M-148.8,-114.1 -126.1,-114.4 -120.1,-113.2 -117.1,-111.2 -111.0,-104.3 -104.9,-99.0 -95.9,-89.2 -91.6,-85.4 -85.4,-81.6 -71.6,-76.3 -71.0,-74.8 -89.9,-72.2 -94.4,-72.3 -97.4,-73.8 -115.6,-92.4 -120.1,-94.9 -126.1,-95.9 -150.3,-95.6 -150.3,-114.1 -148.8,-114.1ZM-44.6,62.5 -40.0,62.2 -34.0,62.7 -28.8,64.2 -27.7,65.7 -27.4,67.2 -28.0,74.8 -26.7,77.8 -23.4,80.1 -12.8,83.9 -10.6,85.4 -8.7,88.4 -8.9,91.4 -11.2,99.0 -16.2,124.6 -15.9,150.3 -150.3,150.3 -150.3,118.7 -126.1,118.9 -121.6,118.4 -118.6,117.4 -115.6,115.3 -109.7,108.0 -103.5,102.9 -97.8,95.9 -91.4,91.0 -85.8,83.8 -83.8,82.8 -80.8,82.8 -78.5,83.8 -73.1,89.9 -68.7,92.4 -62.7,93.0 -58.2,91.4 -56.6,89.9 -55.9,88.4 -56.3,85.4 -58.2,83.3 -64.7,79.3 -65.9,77.8 -66.0,76.3 -63.7,74.8 -58.2,73.7 -53.6,71.8 -50.6,69.1 -47.1,64.2 -44.6,62.5ZM6.8,76.2 8.3,75.8 9.8,76.2 11.3,77.5 12.8,80.2 13.8,83.8 14.3,88.4 13.6,92.9 12.8,94.5 10.5,95.9 8.3,95.8 5.3,93.8 3.2,91.4 1.9,88.4 1.8,85.4 2.5,82.3 5.0,77.8 6.8,76.2Z"/><path fill="#ffa67f" d="M-103.1,-74.2 -99.8,-78.0 -96.6,-81.2 -93.7,-83.8 -91.0,-85.8 -88.6,-87.2 -86.0,-88.8 -83.2,-90.6 -80.3,-92.5 -77.2,-94.7 -73.9,-96.7 -70.4,-98.7 -66.6,-100.6 -62.6,-102.5 -58.3,-103.9 -53.7,-104.8 -48.7,-105.2 -43.4,-105.2 -39.4,-104.3 -36.7,-102.5 -35.4,-99.7 -35.4,-96.0 -36.0,-92.7 -37.1,-89.8 -38.8,-87.3 -41.0,-85.1 -42.8,-83.2 -44.3,-81.4 -45.3,-79.8 -45.9,-78.5 -47.0,-77.1 -48.5,-75.7 -50.5,-74.3 -53.0,-72.9 -55.7,-71.6 -58.8,-70.2 -62.2,-68.8 -65.9,-67.4 -69.5,-66.2 -73.0,-65.1 -76.4,-64.2 -79.8,-63.4 -83.3,-63.0 -87.0,-62.9 -90.9,-63.2 -94.9,-63.8 -98.3,-64.5 -101.2,-65.3 -103.6,-66.1 -105.4,-67.0 -106.0,-68.7 -105.2,-71.1Z"/>
<path fill="#ffccb3" d="M-67.7,-99.9 -65.2,-102.0 -62.6,-104.0 -59.9,-105.9 -56.9,-107.6 -53.9,-109.1 -50.5,-110.5 -46.8,-111.9 -42.8,-113.2 -38.5,-114.5 -35.2,-114.1 -32.9,-112.1 -31.6,-108.5 -31.3,-103.3 -31.6,-98.9 -32.5,-95.4 -34.1,-92.7 -36.2,-90.8 -38.2,-89.2 -40.1,-87.7 -41.8,-86.4 -43.3,-85.4 -45.1,-84.4 -47.0,-83.5 -49.3,-82.6 -51.7,-81.8 -54.1,-81.6 -56.5,-81.8 -58.9,-82.5 -61.2,-83.8 -63.2,-85.1 -64.9,-86.4 -66.2,-87.9 -67.3,-89.4 -68.3,-90.9 -69.1,-92.3 -69.8,-93.6 -70.5,-94.8 -70.3,-96.3 -69.4,-98.0Z"/>
<path fill="#ffe9d9" d="M-57.9,-99.4 -55.4,-101.3 -52.8,-102.9 -50.0,-104.5 -47.1,-105.9 -44.1,-107.1 -41.4,-107.3 -39.3,-106.6 -37.6,-104.8 -36.4,-102.0 -35.9,-99.5 -36.2,-97.2 -37.3,-95.1 -39.1,-93.3 -41.1,-91.6 -43.3,-90.2 -45.6,-88.9 -48.0,-87.8 -50.3,-87.2 -52.5,-87.1 -54.5,-87.4 -56.3,-88.1 -57.9,-89.2 -59.1,-90.5 -60.0,-92.1 -60.6,-93.9 -60.5,-95.7 -59.6,-97.6Z"/>
<path fill="#ffe9d9" d="M-84.9,-63.2 -82.4,-63.4 -80.1,-63.7 -78.0,-64.0 -76.0,-64.4 -74.1,-64.9 -72.3,-65.4 -70.5,-65.9 -68.6,-66.5 -66.8,-67.1 -64.9,-67.7 -63.1,-68.4 -61.2,-69.0 -59.4,-69.6 -57.6,-70.2 -55.7,-70.8 -53.9,-71.4 -52.0,-72.0 -50.4,-72.6 -49.0,-73.1 -47.9,-73.6 -47.0,-74.1 -46.2,-74.3 -45.5,-74.2 -45.0,-73.8 -44.7,-73.1 -44.9,-72.4 -45.6,-71.8 -47.0,-71.1 -48.9,-70.4 -50.8,-69.8 -52.6,-69.1 -54.5,-68.5 -56.3,-67.9 -58.2,-67.2 -60.0,-66.6 -61.9,-66.0 -63.7,-65.4 -65.5,-64.8 -67.4,-64.2 -69.2,-63.6 -71.1,-63.0 -72.9,-62.4 -74.8,-61.8 -76.6,-61.3 -78.4,-60.9 -80.2,-60.5 -82.0,-60.2 -83.7,-60.0 -85.4,-59.8 -86.7,-59.9 -87.6,-60.2 -88.2,-60.8 -88.3,-61.6 -87.8,-62.3 -86.7,-62.8Z"/>
<path fill="#ff7b45" d="M-93.2,-82.8 -91.3,-83.5 -89.5,-83.9 -87.6,-84.1 -85.8,-84.1 -84.0,-84.0 -82.1,-83.7 -80.3,-83.3 -78.4,-82.8 -76.6,-82.2 -74.8,-81.5 -72.9,-80.8 -71.1,-79.9 -69.2,-79.0 -67.4,-78.2 -65.5,-77.5 -63.7,-76.9 -61.9,-76.5 -60.1,-76.2 -58.4,-76.2 -56.8,-76.5 -55.3,-76.9 -53.9,-77.4 -52.7,-78.0 -51.6,-78.5 -50.7,-79.2 -49.7,-79.7 -48.8,-80.3 -47.9,-80.8 -47.0,-81.2 -46.3,-81.3 -45.9,-80.9 -45.8,-80.1 -46.0,-78.9 -46.5,-77.7 -47.4,-76.6 -48.7,-75.6 -50.4,-74.7 -52.1,-73.9 -53.7,-73.1 -55.3,-72.4 -56.8,-71.8 -58.4,-71.2 -60.1,-70.6 -61.9,-69.9 -63.7,-69.3 -65.5,-68.7 -67.2,-68.1 -68.8,-67.5 -70.3,-66.9 -71.8,-66.3 -73.4,-65.8 -74.9,-65.3 -76.4,-64.8 -78.0,-64.4 -79.5,-64.0 -81.0,-63.7 -82.6,-63.4 -84.0,-63.2 -85.4,-63.1 -86.7,-63.1 -88.0,-63.3 -89.1,-63.6 -90.3,-64.2 -91.4,-64.9 -92.5,-65.8 -93.9,-66.6 -95.5,-67.3 -97.5,-67.8 -99.8,-68.3 -101.8,-68.6 -103.4,-68.9 -104.7,-69.2 -105.6,-69.4 -106.0,-69.9 -105.8,-70.7 -105.1,-71.9 -103.9,-73.5 -102.6,-75.0 -101.2,-76.5 -99.8,-78.1 -98.2,-79.6 -96.6,-80.9 -94.9,-82.0Z"/>
<path fill="#ffe9d9" d="M-108.4,-66.5 -106.8,-67.6 -105.1,-68.5 -103.1,-68.9 -100.8,-69.0 -98.4,-68.8 -96.2,-68.4 -94.2,-67.9 -92.4,-67.3 -90.9,-66.5 -89.4,-65.8 -88.0,-65.2 -86.7,-64.7 -85.5,-64.2 -84.7,-63.7 -84.2,-63.3 -84.1,-62.8 -84.4,-62.3 -85.3,-61.9 -86.6,-61.6 -88.6,-61.4 -91.0,-61.2 -93.5,-61.1 -95.9,-61.0 -98.4,-60.9 -100.8,-60.7 -103.1,-60.7 -105.1,-60.7 -106.8,-60.9 -108.4,-61.1 -109.5,-61.5 -110.3,-62.0 -110.7,-62.7 -110.7,-63.5 -110.3,-64.4 -109.5,-65.4Z"/>
<path fill="#d7eaff" d="M-105.9,-67.0 -104.4,-67.6 -102.8,-67.9 -101.1,-68.1 -99.3,-68.0 -97.5,-67.8 -95.7,-67.4 -94.0,-67.0 -92.4,-66.4 -90.9,-65.7 -89.8,-65.1 -89.2,-64.6 -89.0,-64.0 -89.3,-63.6 -89.9,-63.2 -90.6,-62.9 -91.6,-62.8 -92.9,-62.7 -94.2,-62.6 -95.8,-62.5 -97.5,-62.3 -99.3,-62.2 -101.1,-62.2 -102.8,-62.2 -104.4,-62.4 -105.9,-62.6 -107.1,-62.9 -107.8,-63.5 -108.2,-64.1 -108.2,-65.0 -107.8,-65.7 -107.1,-66.4Z"/>
<path fill="#ff5019" d="M-94.8,-80.8 -92.8,-81.2 -90.8,-81.5 -88.9,-81.7 -87.0,-81.7 -85.2,-81.5 -83.3,-81.3 -81.5,-80.9 -79.7,-80.4 -77.8,-79.8 -76.0,-79.1 -74.1,-78.3 -72.3,-77.5 -70.5,-76.5 -68.6,-75.8 -66.8,-75.2 -64.9,-74.7 -63.1,-74.4 -61.3,-74.2 -59.6,-74.2 -58.0,-74.4 -56.5,-74.7 -55.0,-75.1 -53.5,-75.6 -52.1,-76.1 -50.7,-76.7 -49.5,-77.5 -48.3,-78.6 -47.3,-79.9 -46.4,-81.5 -45.6,-82.5 -45.0,-83.1 -44.6,-83.3 -44.3,-83.0 -44.2,-82.4 -44.4,-81.5 -44.9,-80.2 -45.6,-78.7 -46.4,-77.4 -47.4,-76.3 -48.5,-75.3 -49.8,-74.6 -51.1,-74.0 -52.6,-73.4 -54.0,-72.8 -55.6,-72.3 -57.2,-71.7 -58.9,-71.2 -60.6,-70.6 -62.5,-69.9 -64.3,-69.4 -66.2,-68.8 -68.0,-68.3 -69.8,-67.9 -71.6,-67.5 -73.3,-67.1 -74.9,-66.7 -76.4,-66.4 -78.0,-66.3 -79.5,-66.2 -81.0,-66.3 -82.6,-66.6 -84.1,-66.8 -85.6,-67.1 -87.2,-67.4 -88.7,-67.7 -90.3,-68.0 -92.0,-68.3 -93.8,-68.6 -95.6,-68.9 -97.4,-69.2 -99.2,-69.5 -100.9,-69.7 -102.6,-69.9 -103.7,-70.4 -104.3,-71.1 -104.2,-72.1 -103.6,-73.3 -102.8,-74.6 -101.9,-75.8 -100.8,-77.0 -99.6,-78.2 -98.2,-79.3 -96.6,-80.1Z"/>
<path fill="#e63205" d="M-97.2,-78.8 -95.2,-79.2 -93.3,-79.4 -91.4,-79.4 -89.5,-79.3 -87.6,-78.9 -85.8,-78.6 -84.0,-78.1 -82.1,-77.6 -80.3,-76.9 -78.4,-76.3 -76.6,-75.7 -74.8,-75.1 -72.9,-74.5 -71.1,-74.0 -69.2,-73.6 -67.4,-73.2 -65.5,-73.0 -63.8,-73.0 -62.1,-73.0 -60.5,-73.2 -58.9,-73.5 -57.4,-73.8 -55.9,-74.3 -54.3,-74.7 -52.8,-75.2 -51.4,-75.9 -50.2,-76.7 -49.1,-77.5 -48.2,-78.6 -47.4,-79.3 -46.8,-79.7 -46.3,-79.8 -45.9,-79.7 -45.8,-79.4 -45.9,-78.8 -46.3,-78.1 -46.9,-77.2 -47.7,-76.3 -48.6,-75.5 -49.7,-74.8 -51.0,-74.1 -52.3,-73.5 -53.6,-72.9 -54.8,-72.4 -56.0,-72.0 -57.4,-71.6 -58.9,-71.1 -60.6,-70.6 -62.5,-70.1 -64.3,-69.7 -66.2,-69.2 -68.0,-68.8 -69.8,-68.4 -71.6,-68.1 -73.3,-67.8 -74.9,-67.6 -76.4,-67.4 -78.0,-67.4 -79.5,-67.5 -81.0,-67.6 -82.6,-68.0 -84.1,-68.2 -85.6,-68.5 -87.2,-68.8 -88.7,-69.0 -90.3,-69.3 -91.9,-69.5 -93.6,-69.7 -95.2,-69.9 -96.9,-70.1 -98.6,-70.3 -100.2,-70.5 -101.8,-70.6 -102.9,-71.0 -103.5,-71.6 -103.5,-72.5 -102.9,-73.6 -102.4,-74.6 -101.9,-75.5 -101.4,-76.3 -100.9,-77.1 -100.1,-77.8 -98.8,-78.3Z"/>
<path fill="#8b0000" d="M-102.4,-74.0 -101.4,-75.1 -100.2,-76.0 -98.9,-76.6 -97.5,-77.0 -95.9,-77.1 -94.2,-77.1 -92.5,-77.0 -90.7,-76.7 -88.9,-76.2 -87.1,-75.8 -85.4,-75.3 -83.8,-74.8 -82.3,-74.4 -80.7,-73.9 -79.2,-73.5 -77.7,-73.1 -76.1,-72.7 -74.6,-72.3 -73.1,-72.0 -71.5,-71.7 -70.0,-71.5 -68.5,-71.4 -66.9,-71.4 -65.4,-71.5 -63.9,-71.7 -62.3,-72.0 -60.8,-72.3 -59.3,-72.7 -57.7,-73.0 -56.3,-73.4 -54.9,-73.9 -53.6,-74.4 -52.3,-75.0 -51.3,-75.3 -50.6,-75.4 -50.0,-75.3 -49.7,-75.0 -49.8,-74.6 -50.3,-74.2 -51.1,-73.6 -52.3,-73.0 -53.6,-72.5 -55.0,-71.9 -56.5,-71.5 -58.0,-71.0 -59.6,-70.6 -61.1,-70.2 -62.6,-69.8 -64.2,-69.5 -65.7,-69.1 -67.2,-68.9 -68.8,-68.7 -70.3,-68.5 -71.8,-68.4 -73.4,-68.4 -74.9,-68.5 -76.4,-68.6 -78.0,-68.8 -79.5,-69.0 -81.0,-69.2 -82.6,-69.5 -84.1,-69.7 -85.6,-70.0 -87.2,-70.2 -88.7,-70.3 -90.3,-70.5 -91.8,-70.7 -93.3,-70.9 -94.9,-71.0 -96.4,-71.1 -97.9,-71.1 -99.5,-71.0 -101.0,-70.9 -102.2,-70.8 -103.0,-71.0 -103.5,-71.3 -103.7,-71.7 -103.5,-72.3 -103.1,-73.1Z"/>
<path fill="#ffccb3" d="M-110.7,-60.4 -108.7,-61.1 -106.5,-61.8 -104.0,-62.3 -101.2,-62.6 -98.1,-62.9 -95.5,-63.0 -93.4,-62.9 -91.9,-62.7 -90.8,-62.3 -90.1,-61.8 -89.7,-61.2 -89.6,-60.6 -89.9,-59.9 -90.5,-59.2 -91.4,-58.6 -92.5,-58.1 -93.9,-57.5 -95.4,-57.0 -97.0,-56.6 -98.7,-56.2 -100.5,-55.8 -102.5,-55.4 -104.5,-55.0 -106.5,-54.6 -108.7,-54.2 -110.5,-54.0 -111.9,-54.0 -113.0,-54.1 -113.8,-54.4 -114.3,-54.9 -114.5,-55.6 -114.5,-56.5 -114.2,-57.6 -113.5,-58.6 -112.3,-59.5Z"/>
<path fill="#ff7b45" d="M-110.2,-58.5 -108.9,-59.1 -107.6,-59.7 -106.2,-60.1 -104.7,-60.4 -103.1,-60.7 -101.6,-60.9 -100.1,-61.1 -98.5,-61.3 -97.0,-61.4 -95.7,-61.5 -94.7,-61.4 -93.9,-61.2 -93.3,-60.8 -93.1,-60.5 -93.3,-60.1 -93.8,-59.7 -94.6,-59.2 -95.7,-58.8 -96.9,-58.5 -98.2,-58.1 -99.8,-57.8 -101.3,-57.5 -102.8,-57.2 -104.4,-56.9 -105.9,-56.6 -107.3,-56.4 -108.6,-56.2 -109.8,-56.1 -110.9,-56.1 -111.7,-56.2 -112.2,-56.4 -112.4,-56.7 -112.3,-57.1 -111.9,-57.5 -111.2,-58.0Z"/>
<path fill="#85aafc" d="M-62.8,54.4 -62.0,53.6 -61.1,53.1 -60.1,52.9 -59.0,52.9 -57.8,53.2 -56.5,53.5 -55.1,53.6 -53.6,53.7 -52.1,53.7 -50.8,53.9 -49.8,54.3 -49.1,54.9 -48.6,55.8 -48.6,56.5 -48.9,57.0 -49.6,57.5 -50.6,57.8 -51.7,58.2 -52.8,58.7 -53.9,59.3 -54.9,60.0 -56.0,60.7 -57.1,61.5 -58.2,62.3 -59.2,63.1 -60.3,63.9 -61.2,64.5 -62.1,65.0 -63.0,65.4 -63.7,65.5 -64.4,65.0 -64.9,64.2 -65.4,62.9 -65.5,61.7 -65.5,60.3 -65.2,59.0 -64.7,57.6 -64.1,56.4 -63.5,55.3Z"/>
<path fill="#d7eaff" d="M-62.5,57.5 -61.9,56.9 -61.1,56.6 -60.4,56.5 -59.6,56.6 -58.7,56.9 -58.3,57.3 -58.3,57.9 -58.7,58.5 -59.6,59.3 -60.4,60.0 -61.1,60.8 -61.9,61.5 -62.5,62.1 -63.1,62.5 -63.7,62.6 -64.1,62.4 -64.5,61.8 -64.7,61.3 -64.7,60.7 -64.5,60.0 -64.1,59.3 -63.7,58.6 -63.1,58.0Z"/>
<path fill="#e63205" d="M-63.5,67.2 -62.5,66.7 -61.3,66.0 -60.2,65.3 -59.0,64.5 -57.8,63.5 -56.5,62.7 -55.3,61.8 -54.1,61.1 -52.9,60.3 -51.8,59.8 -50.9,59.4 -50.1,59.2 -49.5,59.2 -48.9,59.3 -48.4,59.6 -48.0,60.0 -47.6,60.4 -47.7,61.1 -48.2,61.8 -49.0,62.7 -50.3,63.6 -51.6,64.6 -52.8,65.4 -54.1,66.2 -55.3,67.0 -56.5,67.6 -57.8,68.2 -59.0,68.8 -60.2,69.3 -61.4,69.7 -62.5,69.9 -63.5,70.0 -64.4,70.0 -65.0,69.9 -65.4,69.7 -65.5,69.3 -65.4,68.8 -65.0,68.3 -64.4,67.8Z"/>
<path fill="#be2307" d="M-60.4,66.2 -59.1,65.3 -57.9,64.4 -56.7,63.6 -55.5,62.8 -54.5,62.0 -53.5,61.5 -52.7,61.2 -51.9,61.0 -51.3,61.1 -51.1,61.4 -51.4,61.9 -52.0,62.7 -53.1,63.6 -54.2,64.6 -55.4,65.4 -56.5,66.2 -57.8,67.0 -58.9,67.5 -59.8,67.8 -60.6,67.9 -61.3,67.8 -61.5,67.4 -61.2,66.9Z"/>
<path fill="#b4cdfc" d="M24.1,54.6 26.1,53.4 28.0,52.6 29.7,52.1 31.4,52.1 32.9,52.4 33.6,53.0 33.5,53.8 32.6,54.9 30.8,56.2 29.4,57.8 28.2,59.5 27.3,61.5 26.6,63.8 26.1,66.0 25.6,68.2 25.3,70.5 25.1,72.7 24.8,74.9 24.5,77.1 24.0,79.3 23.6,81.5 23.2,83.6 22.9,85.6 22.6,87.5 22.5,89.3 22.4,91.0 22.3,92.5 22.2,94.0 22.1,95.4 21.4,96.4 20.1,97.0 18.1,97.2 15.6,97.1 13.5,96.7 11.9,96.0 10.8,95.0 10.1,93.8 9.6,92.4 9.4,90.9 9.3,89.3 9.5,87.5 9.8,85.7 10.3,83.9 10.9,82.2 11.8,80.4 12.6,78.6 13.4,76.8 14.3,75.1 15.1,73.3 15.9,71.5 16.5,69.5 17.1,67.4 17.5,65.1 18.0,63.1 18.6,61.3 19.3,59.8 20.0,58.4 21.0,57.2 22.4,55.9Z"/>
<path fill="#ff5019" d="M6.2,83.6 7.1,82.4 8.0,81.1 8.8,79.9 9.7,78.7 10.5,77.5 11.3,76.2 12.0,74.8 12.6,73.3 13.2,71.8 13.7,70.3 14.2,68.9 14.7,67.6 15.2,66.4 15.6,65.9 15.9,66.0 16.1,66.9 16.3,68.4 16.2,70.0 16.1,71.7 15.7,73.5 15.3,75.3 14.7,77.0 14.1,78.5 13.4,79.9 12.5,81.1 11.7,82.3 11.0,83.4 10.3,84.5 9.6,85.4 9.1,86.5 8.8,87.5 8.7,88.7 8.7,89.8 8.9,91.0 9.1,92.2 9.5,93.3 9.9,94.5 10.3,95.5 10.7,96.3 11.0,96.9 11.3,97.3 11.4,97.6 11.2,97.8 10.8,97.9 10.1,97.8 9.4,97.5 8.7,96.8 7.9,95.9 7.1,94.7 6.5,93.3 6.0,91.7 5.5,90.1 5.2,88.2 5.2,86.5 5.5,85.0Z"/>
<path fill="#be2307" d="M7.1,85.2 7.9,84.1 8.7,83.0 9.4,81.9 10.1,80.8 10.8,79.7 11.3,79.1 11.7,78.9 12.0,79.2 12.1,80.0 12.0,80.8 11.7,81.8 11.3,82.8 10.6,83.8 10.1,84.9 9.7,86.1 9.5,87.3 9.3,88.5 9.3,89.7 9.3,90.9 9.5,92.0 9.8,93.0 10.0,93.9 9.9,94.5 9.6,94.9 9.1,95.0 8.7,94.9 8.2,94.5 7.7,93.9 7.1,93.0 6.7,92.0 6.4,90.9 6.2,89.8 6.1,88.7 6.3,87.5 6.6,86.4Z"/>
<path fill="#8b0000" d="M8.1,89.1 8.5,88.2 8.8,87.9 9.1,88.0 9.3,88.7 9.5,89.8 9.6,90.9 9.7,91.9 9.6,92.7 9.5,93.5 9.3,93.8 9.0,93.7 8.7,93.0 8.2,92.0 8.0,90.9 8.0,90.0Z"/></g>
<use href="#coast" x="494.2" y="245.25"/>
</g>
<circle cx="494.2" cy="245.25" r="126.9" fill="none" stroke="#000" stroke-width="1"/>
<text x="144.8" y="398.9" class="st">MEAN=</text><text x="207.9" y="398.9" class="st" text-anchor="end">1.75</text><text x="213.4" y="398.9" class="st">Min=</text><text x="264.0" y="398.9" class="st" text-anchor="end">0.12</text><text x="269.2" y="398.9" class="st">Max=</text><text x="325.4" y="398.9" class="st" text-anchor="end">14.59</text>
<text x="403.6" y="398.9" class="st">MEAN=</text><text x="466.7" y="398.9" class="st" text-anchor="end">1.76</text><text x="472.2" y="398.9" class="st">Min=</text><text x="522.8" y="398.9" class="st" text-anchor="end">0.10</text><text x="528.0" y="398.9" class="st">Max=</text><text x="584.2" y="398.9" class="st" text-anchor="end">11.75</text>
<rect x="111.80" y="407.90" width="15.42" height="12.80" fill="#00008f" stroke="#000" stroke-width="0.6"/>
<rect x="127.22" y="407.90" width="15.42" height="12.80" fill="#0019b9" stroke="#000" stroke-width="0.6"/>
<rect x="142.64" y="407.90" width="15.42" height="12.80" fill="#002fde" stroke="#000" stroke-width="0.6"/>
<rect x="158.06" y="407.90" width="15.42" height="12.80" fill="#1a4dfa" stroke="#000" stroke-width="0.6"/>
<rect x="173.48" y="407.90" width="15.42" height="12.80" fill="#4577fb" stroke="#000" stroke-width="0.6"/>
<rect x="188.90" y="407.90" width="15.42" height="12.80" fill="#85aafc" stroke="#000" stroke-width="0.6"/>
<rect x="204.32" y="407.90" width="15.42" height="12.80" fill="#b4cdfc" stroke="#000" stroke-width="0.6"/>
<rect x="219.74" y="407.90" width="15.42" height="12.80" fill="#d7eaff" stroke="#000" stroke-width="0.6"/>
<rect x="235.16" y="407.90" width="15.42" height="12.80" fill="#ffe9d9" stroke="#000" stroke-width="0.6"/>
<rect x="250.58" y="407.90" width="15.42" height="12.80" fill="#ffccb3" stroke="#000" stroke-width="0.6"/>
<rect x="266.00" y="407.90" width="15.42" height="12.80" fill="#ffa67f" stroke="#000" stroke-width="0.6"/>
<rect x="281.42" y="407.90" width="15.42" height="12.80" fill="#ff7b45" stroke="#000" stroke-width="0.6"/>
<rect x="296.84" y="407.90" width="15.42" height="12.80" fill="#ff5019" stroke="#000" stroke-width="0.6"/>
<rect x="312.26" y="407.90" width="15.42" height="12.80" fill="#e63205" stroke="#000" stroke-width="0.6"/>
<rect x="327.68" y="407.90" width="15.42" height="12.80" fill="#be2307" stroke="#000" stroke-width="0.6"/>
<rect x="343.10" y="407.90" width="15.42" height="12.80" fill="#8b0000" stroke="#000" stroke-width="0.6"/>
<text x="127.22" y="434.20" class="lb" text-anchor="middle">0.3</text>
<text x="158.06" y="434.20" class="lb" text-anchor="middle">0.7</text>
<text x="188.90" y="434.20" class="lb" text-anchor="middle">1.5</text>
<text x="219.74" y="434.20" class="lb" text-anchor="middle">2.5</text>
<text x="250.58" y="434.20" class="lb" text-anchor="middle">3.5</text>
<text x="281.42" y="434.20" class="lb" text-anchor="middle">4.5</text>
<text x="312.26" y="434.20" class="lb" text-anchor="middle">6</text>
<text x="343.10" y="434.20" class="lb" text-anchor="middle">8</text>
<rect x="370.60" y="407.90" width="15.42" height="12.80" fill="#00008f" stroke="#000" stroke-width="0.6"/>
<rect x="386.02" y="407.90" width="15.42" height="12.80" fill="#0019b9" stroke="#000" stroke-width="0.6"/>
<rect x="401.44" y="407.90" width="15.42" height="12.80" fill="#002fde" stroke="#000" stroke-width="0.6"/>
<rect x="416.86" y="407.90" width="15.42" height="12.80" fill="#1a4dfa" stroke="#000" stroke-width="0.6"/>
<rect x="432.28" y="407.90" width="15.42" height="12.80" fill="#4577fb" stroke="#000" stroke-width="0.6"/>
<rect x="447.70" y="407.90" width="15.42" height="12.80" fill="#85aafc" stroke="#000" stroke-width="0.6"/>
<rect x="463.12" y="407.90" width="15.42" height="12.80" fill="#b4cdfc" stroke="#000" stroke-width="0.6"/>
<rect x="478.54" y="407.90" width="15.42" height="12.80" fill="#d7eaff" stroke="#000" stroke-width="0.6"/>
<rect x="493.96" y="407.90" width="15.42" height="12.80" fill="#ffe9d9" stroke="#000" stroke-width="0.6"/>
<rect x="509.38" y="407.90" width="15.42" height="12.80" fill="#ffccb3" stroke="#000" stroke-width="0.6"/>
<rect x="524.80" y="407.90" width="15.42" height="12.80" fill="#ffa67f" stroke="#000" stroke-width="0.6"/>
<rect x="540.22" y="407.90" width="15.42" height="12.80" fill="#ff7b45" stroke="#000" stroke-width="0.6"/>
<rect x="555.64" y="407.90" width="15.42" height="12.80" fill="#ff5019" stroke="#000" stroke-width="0.6"/>
<rect x="571.06" y="407.90" width="15.42" height="12.80" fill="#e63205" stroke="#000" stroke-width="0.6"/>
<rect x="586.48" y="407.90" width="15.42" height="12.80" fill="#be2307" stroke="#000" stroke-width="0.6"/>
<rect x="601.90" y="407.90" width="15.42" height="12.80" fill="#8b0000" stroke="#000" stroke-width="0.6"/>
<text x="386.02" y="434.20" class="lb" text-anchor="middle">0.3</text>
<text x="416.86" y="434.20" class="lb" text-anchor="middle">0.7</text>
<text x="447.70" y="434.20" class="lb" text-anchor="middle">1.5</text>
<text x="478.54" y="434.20" class="lb" text-anchor="middle">2.5</text>
<text x="509.38" y="434.20" class="lb" text-anchor="middle">3.5</text>
<text x="540.22" y="434.20" class="lb" text-anchor="middle">4.5</text>
<text x="571.06" y="434.20" class="lb" text-anchor="middle">6</text>
<text x="601.90" y="434.20" class="lb" text-anchor="middle">8</text>
<text x="364.6" y="471.5" class="t1" text-anchor="middle">b1850c5_t1a - f1850c5_m3</text>
<text x="237" y="509.6" class="t2">Precipitation rate</text>
<text x="491" y="509.6" class="t2" text-anchor="end">mm/day</text>
<g clip-path="url(#clip3)">
<rect x="236.7" y="526.4" width="255.8" height="255.8" fill="#00008f"/>
<g transform="translate(364.6,654.3)"><path fill="#0019b9" fill-rule="evenodd" d="M-148.8,-150.3 150.3,-150.3 150.3,150.3 -150.3,150.3 -150.3,-150.3 -148.8,-150.3Z"/>
<path fill="#002fde" fill-rule="evenodd" d="M-148.8,-150.3 150.3,-150.3 150.3,150.3 -150.3,150.3 -150.3,-150.3 -148.8,-150.3Z"/>
<path fill="#1a4dfa" fill-rule="evenodd" d="M-148.8,-150.3 150.3,-150.3 150.3,150.3 -150.3,150.3 -150.3,-150.3 -148.8,-150.3Z"/>
<path fill="#4577fb" fill-rule="evenodd" d="M-148.8,-150.3 150.3,-150.3 150.3,150.3 -150.3,150.3 -150.3,-150.3 -148.8,-150.3Z"/>
<path fill="#85aafc" fill-rule="evenodd" d="M-148.8,-150.3 150.3,-150.3 150.3,150.3 -82.5,150.3 -82.8,126.1 -81.8,120.1 -78.8,115.6 -70.2,109.9 -68.5,108.0 -65.7,101.7 -63.3,92.9 -63.3,89.9 -64.9,86.9 -67.7,85.4 -73.3,84.6 -77.5,85.4 -79.4,86.9 -80.3,89.9 -79.6,95.9 -80.8,99.5 -88.4,106.3 -93.9,112.5 -99.5,117.1 -101.4,120.1 -102.4,126.1 -102.2,150.3 -150.3,150.3 -150.3,-150.3 -148.8,-150.3ZM-2.2,34.0 -4.4,35.5 -4.8,37.0 -3.8,39.2 -2.3,40.6 0.8,41.7 2.3,41.4 3.8,40.4 5.0,38.5 5.2,37.0 4.7,35.5 2.3,33.8 -2.2,34.0ZM-31.9,64.2 -33.0,65.7 -33.2,67.2 -32.5,68.7 -24.9,75.0 -21.9,75.6 -20.4,75.2 -17.9,73.3 -16.1,70.2 -16.0,67.2 -17.8,65.7 -27.9,63.4 -31.9,64.2ZM10.3,76.3 8.3,78.3 8.3,82.3 9.8,84.7 11.3,85.7 12.8,85.8 14.4,85.2 15.3,83.8 15.6,80.8 14.4,78.0 12.8,76.6 10.3,76.3Z"/>
<path fill="#b4cdfc" fill-rule="evenodd" d="M-148.8,-150.3 4.0,-150.3 4.0,-123.1 5.9,-109.5 7.1,-106.5 9.8,-103.5 14.4,-101.0 18.9,-100.1 20.9,-100.5 23.1,-102.0 24.0,-103.5 24.4,-106.5 23.1,-111.0 16.7,-118.6 14.9,-123.1 15.0,-150.3 150.3,-150.3 150.3,150.3 -75.8,150.3 -75.5,138.2 -76.5,127.7 -75.9,123.1 -73.3,119.7 -67.2,117.2 -65.7,116.0 -64.5,114.1 -57.1,88.4 -55.1,84.8 -53.4,83.8 -46.1,81.7 -38.5,78.0 -35.5,77.2 -32.5,77.8 -24.9,81.4 -21.9,81.7 -18.9,81.2 -15.7,79.3 -6.8,71.0 -3.8,69.5 0.8,68.6 2.3,68.8 3.8,70.2 4.8,80.8 5.8,83.8 8.0,86.9 9.8,88.1 12.8,88.9 15.9,88.0 17.4,86.5 18.6,82.3 18.3,79.3 17.2,76.3 15.9,74.0 12.8,70.6 7.4,67.2 6.3,64.2 6.4,55.1 6.9,52.1 9.0,47.6 15.2,38.5 16.1,35.5 16.0,34.0 14.4,31.0 12.8,29.5 9.8,27.8 5.3,26.7 0.8,26.9 -5.3,28.7 -10.0,31.0 -12.8,34.0 -13.1,35.5 -12.1,38.5 -6.0,46.1 -4.6,49.1 -4.5,52.1 -5.2,53.6 -8.5,56.7 -12.8,58.4 -17.4,59.1 -29.5,58.0 -34.0,58.7 -37.0,61.0 -41.5,66.3 -50.6,70.2 -53.1,71.8 -55.5,74.8 -58.2,79.4 -59.7,80.5 -62.7,81.0 -77.8,80.2 -82.4,80.8 -86.4,82.3 -92.9,88.8 -100.5,92.4 -105.4,100.5 -112.5,105.8 -117.7,112.5 -120.1,114.4 -126.1,115.6 -150.3,115.3 -150.3,-150.3 -148.8,-150.3ZM-16.0,-97.4 -17.1,-95.9 -17.3,-94.4 -15.9,-91.6 -14.4,-90.6 -12.8,-90.3 -11.3,-90.7 -9.8,-91.9 -8.1,-94.4 -8.0,-97.4 -9.8,-98.6 -12.8,-98.7 -16.0,-97.4ZM53.6,-97.4 53.0,-95.9 53.1,-92.9 55.1,-88.3 56.7,-86.9 59.7,-85.7 61.2,-85.7 63.4,-86.9 64.3,-88.4 64.0,-91.4 61.2,-95.7 56.7,-98.1 55.1,-98.2 53.6,-97.4Z"/>
<path fill="#d7eaff" fill-rule="evenodd" d="M-148.8,-150.3 -4.8,-150.3 -5.0,-126.1 -4.2,-115.6 -5.1,-111.0 -6.0,-109.5 -8.3,-107.7 -11.4,-106.5 -21.9,-104.3 -24.9,-102.6 -27.3,-100.5 -34.0,-92.6 -36.2,-88.4 -36.8,-83.8 -35.5,-81.2 -34.0,-80.7 -32.5,-81.0 -31.0,-82.3 -27.2,-86.9 -24.9,-87.7 -15.9,-83.4 -11.3,-83.4 -8.3,-85.2 -2.3,-91.6 2.3,-94.0 6.8,-94.0 14.4,-91.1 17.4,-90.5 20.4,-90.8 24.9,-92.1 28.3,-94.4 29.5,-96.7 29.9,-100.5 28.8,-111.0 26.8,-115.6 22.0,-121.6 21.0,-124.6 20.8,-127.7 22.0,-138.2 21.7,-150.3 150.3,-150.3 150.3,150.3 -59.5,150.3 -59.2,109.5 -58.1,103.5 -55.9,95.9 -53.9,91.4 -52.1,89.0 -47.6,86.1 -37.0,82.8 -34.0,83.0 -24.9,85.6 -18.9,85.5 -14.4,83.5 -6.8,77.2 -3.8,76.2 -2.3,76.3 -0.2,77.8 4.0,85.4 6.8,88.8 11.3,91.1 15.9,90.9 19.3,88.4 20.9,83.8 20.8,79.3 17.7,65.7 17.3,52.1 19.0,47.6 23.4,43.9 27.9,42.7 31.0,43.1 35.5,44.7 46.1,51.2 47.6,51.3 49.1,50.7 50.6,48.7 51.5,44.6 51.4,41.5 50.6,38.3 48.4,35.5 44.6,34.4 34.0,35.0 29.5,34.1 25.2,31.0 17.4,21.5 14.4,19.9 11.3,19.1 5.3,18.8 0.8,19.8 -15.9,27.6 -18.9,29.9 -20.2,32.5 -19.8,35.5 -18.2,38.5 -13.2,44.6 -11.5,47.6 -11.5,50.6 -12.8,52.4 -15.9,54.1 -18.9,54.7 -31.0,54.2 -35.5,55.3 -38.5,57.6 -44.2,64.2 -55.1,69.1 -62.7,76.1 -65.7,76.9 -68.7,77.1 -82.3,75.8 -86.9,73.9 -92.9,67.8 -94.4,67.3 -95.9,67.4 -97.6,68.7 -102.6,77.8 -110.2,83.8 -114.4,89.9 -117.1,92.3 -120.1,93.4 -124.6,93.9 -150.3,93.8 -150.3,-150.3 -148.8,-150.3ZM48.5,-111.0 47.6,-110.8 46.1,-108.5 44.5,-99.0 45.1,-94.4 48.2,-88.4 52.3,-83.8 56.7,-81.7 62.7,-81.2 67.2,-82.5 68.7,-84.0 69.6,-86.9 68.9,-91.4 66.9,-95.9 62.9,-100.5 56.3,-105.0 50.6,-110.4 48.5,-111.0ZM-78.4,-92.9 -80.8,-91.0 -81.1,-88.4 -80.5,-86.9 -78.9,-85.4 -76.3,-84.3 -73.3,-84.3 -71.8,-85.1 -71.3,-86.9 -71.6,-88.4 -73.3,-90.9 -76.3,-93.0 -78.4,-92.9ZM-36.9,-64.2 -38.5,-61.2 -38.5,-58.2 -37.9,-56.7 -37.0,-55.5 -35.5,-54.8 -32.5,-55.3 -30.1,-58.2 -29.8,-61.2 -30.1,-62.7 -31.0,-64.2 -32.5,-65.2 -34.0,-65.5 -36.9,-64.2Z"/>
<path fill="#ffe9d9" fill-rule="evenodd" d="M-80.8,-150.3 -31.1,-150.3 -31.3,-126.1 -30.5,-112.5 -31.4,-109.5 -38.5,-96.0 -43.8,-80.8 -46.1,-78.0 -47.6,-77.3 -52.1,-77.0 -56.7,-78.3 -59.7,-79.7 -62.3,-82.3 -69.6,-95.9 -70.5,-100.5 -70.3,-106.5 -71.3,-109.5 -78.4,-115.6 -80.7,-118.6 -81.8,-121.6 -82.3,-126.1 -82.0,-150.3 -80.8,-150.3ZM55.1,-150.3 150.3,-150.3 150.3,-43.1 114.1,-43.3 100.5,-42.4 95.9,-43.1 92.9,-45.0 91.2,-47.6 90.5,-50.6 92.0,-65.7 91.5,-70.2 90.4,-73.3 86.9,-77.0 79.3,-79.8 77.8,-81.2 70.4,-99.0 67.2,-103.0 59.3,-109.5 56.2,-115.6 54.5,-121.6 54.0,-126.1 54.2,-150.3 55.1,-150.3ZM-148.8,-119.7 -124.6,-119.8 -120.1,-119.2 -117.1,-117.9 -114.1,-115.4 -109.5,-109.5 -102.0,-102.6 -97.4,-97.1 -89.9,-90.8 -85.4,-84.4 -83.3,-82.3 -79.3,-80.4 -67.2,-77.0 -64.9,-74.8 -62.7,-70.0 -60.3,-67.2 -58.2,-66.5 -50.6,-65.9 -47.6,-63.8 -46.6,-61.2 -46.9,-56.7 -48.6,-53.6 -53.6,-49.1 -54.5,-47.6 -55.2,-44.6 -55.1,-37.0 -56.2,-34.0 -58.2,-31.8 -63.6,-27.9 -65.7,-24.8 -66.6,-18.9 -66.2,-2.3 -64.2,2.3 -62.7,3.8 -59.7,5.5 -55.1,6.4 -40.0,5.9 -35.5,7.2 -32.5,9.3 -30.4,12.8 -29.6,15.9 -29.5,18.9 -30.1,21.9 -32.5,25.8 -39.7,31.0 -41.0,32.5 -41.7,34.0 -41.9,37.0 -41.2,38.5 -38.5,40.0 -29.5,39.9 -24.9,41.2 -22.3,43.1 -20.0,46.1 -19.9,47.6 -21.2,49.1 -24.9,49.8 -34.0,50.0 -37.0,51.0 -40.0,53.6 -43.9,59.7 -46.1,61.9 -49.1,63.6 -58.2,66.2 -64.5,71.8 -68.7,73.3 -74.8,73.0 -79.3,71.7 -82.3,69.4 -86.9,63.1 -89.9,60.1 -94.4,57.2 -97.4,57.0 -100.5,58.5 -103.1,61.2 -104.5,64.2 -106.0,70.2 -107.6,73.3 -114.6,79.3 -118.6,84.1 -121.6,86.6 -126.1,87.6 -138.2,87.0 -150.3,87.2 -150.3,54.0 -138.2,53.7 -127.7,54.8 -123.1,54.0 -120.8,52.1 -119.1,49.1 -116.8,41.5 -116.1,37.0 -117.1,34.2 -118.6,32.8 -123.1,31.4 -150.3,31.4 -150.3,17.9 -126.1,18.1 -121.6,17.7 -118.6,16.7 -115.8,14.4 -115.0,12.8 -114.6,9.8 -115.6,6.8 -117.6,5.3 -120.1,4.6 -150.3,4.3 -150.3,-119.7 -148.8,-119.7ZM37.0,-110.9 37.5,-109.5 37.0,-107.5 36.1,-109.5 37.0,-110.9ZM0.8,-86.0 3.8,-86.4 5.4,-85.4 6.2,-83.8 5.9,-80.8 4.5,-79.3 2.3,-78.2 -0.8,-77.6 -3.4,-77.8 -3.5,-79.3 -2.5,-82.3 -0.8,-84.8 0.8,-86.0ZM38.5,-79.5 41.5,-80.2 44.6,-80.3 55.1,-78.0 73.3,-77.3 75.4,-76.3 76.3,-75.0 78.1,-67.2 78.3,-62.7 76.4,-58.2 68.7,-53.0 66.5,-47.6 64.3,-44.6 61.2,-42.8 57.6,-41.5 55.7,-40.0 55.4,-37.0 56.4,-34.0 64.1,-26.4 64.8,-24.9 64.7,-21.9 62.7,-18.9 57.5,-14.4 52.1,-8.3 49.1,-6.9 46.1,-7.1 44.6,-7.9 42.8,-9.8 40.0,-14.5 37.0,-17.2 34.0,-18.1 24.9,-18.5 20.9,-20.4 19.7,-21.9 18.6,-24.9 18.2,-32.5 17.4,-35.9 15.6,-38.5 8.6,-44.6 7.1,-47.6 7.1,-50.6 7.8,-52.1 9.8,-53.9 12.8,-54.7 21.9,-54.7 26.4,-56.8 29.1,-61.2 30.3,-71.8 31.4,-74.8 34.0,-77.4 38.5,-79.5ZM47.6,-64.2 44.6,-61.5 42.7,-58.2 41.5,-53.6 41.5,-50.6 42.3,-47.6 44.6,-44.8 47.6,-43.5 50.6,-43.2 52.1,-43.5 53.4,-44.6 56.7,-49.5 64.2,-54.7 64.9,-56.7 63.4,-59.7 58.9,-62.7 52.1,-64.7 47.6,-64.2ZM-8.3,-76.3 -6.6,-76.3 -5.6,-74.8 -6.3,-71.8 -8.3,-68.3 -9.8,-67.1 -12.8,-66.2 -16.3,-67.2 -17.8,-70.2 -17.4,-73.4 -16.0,-74.8 -14.4,-75.4 -8.3,-76.3ZM111.0,-29.5 150.3,-29.4 150.3,18.1 126.1,18.5 121.6,17.8 118.2,15.9 112.5,9.5 105.0,2.8 103.1,-0.8 102.5,-3.8 102.3,-18.9 102.7,-21.9 105.1,-26.4 108.0,-28.5 111.0,-29.5ZM35.5,14.3 43.1,14.5 55.1,18.3 68.7,17.1 71.8,17.5 74.8,19.0 76.3,20.7 77.5,23.4 77.8,27.9 76.6,29.5 70.2,32.8 68.6,35.5 68.7,38.6 70.2,40.6 71.8,41.5 74.8,41.2 77.4,38.5 79.3,32.9 80.8,31.2 85.4,31.2 88.2,32.5 89.9,34.0 91.4,37.0 91.9,40.0 91.6,44.6 90.0,52.1 90.1,56.7 91.2,59.7 92.9,62.4 97.4,66.4 100.5,67.2 108.0,67.0 111.0,67.9 113.5,70.2 117.1,75.5 118.6,76.8 121.6,78.1 126.1,78.5 150.3,78.3 150.3,150.3 -55.8,150.3 -56.0,108.0 -53.3,97.4 -51.8,94.4 -49.1,91.2 -44.6,88.8 -38.5,87.6 -23.4,89.6 -17.4,89.3 -12.8,87.3 -6.8,82.5 -3.8,81.7 -0.8,83.3 4.7,89.9 8.3,92.3 12.8,93.6 17.9,92.9 20.4,91.3 22.9,86.9 23.6,82.3 23.2,71.8 23.8,68.7 30.5,55.1 32.5,53.7 34.0,53.6 37.0,54.9 38.9,56.7 40.9,59.7 41.7,62.7 41.5,71.8 43.6,76.3 45.8,77.8 47.6,78.1 50.6,76.8 52.5,74.8 54.2,71.8 55.1,68.7 55.8,59.7 57.8,49.1 58.1,43.1 57.2,37.0 54.3,31.0 52.1,29.0 50.6,28.4 47.6,28.3 40.0,29.9 35.5,30.0 32.5,29.2 29.5,27.0 27.4,23.4 27.3,20.4 27.7,18.9 30.6,15.9 35.5,14.3Z"/>
<path fill="#ffccb3" fill-rule="evenodd" d="M-74.8,-150.3 -41.4,-150.3 -41.4,-124.6 -42.1,-100.5 -43.2,-94.4 -45.1,-88.4 -46.6,-85.4 -49.1,-83.2 -50.6,-82.7 -53.6,-82.9 -58.2,-85.2 -61.2,-88.4 -64.7,-94.4 -65.7,-99.0 -64.0,-109.5 -64.6,-112.5 -67.1,-115.6 -73.4,-120.1 -74.8,-122.2 -75.5,-124.6 -75.0,-138.2 -75.2,-150.3 -74.8,-150.3ZM-148.8,-114.8 -126.1,-115.2 -120.1,-113.9 -117.1,-111.6 -112.5,-106.2 -106.2,-100.5 -100.5,-94.0 -92.9,-87.7 -86.9,-80.3 -83.8,-78.4 -74.8,-75.1 -72.1,-73.3 -71.1,-71.8 -70.7,-68.7 -74.2,-61.2 -74.8,-58.1 -73.3,-54.7 -68.7,-51.3 -66.9,-49.1 -66.2,-46.1 -67.4,-43.1 -70.2,-41.7 -79.3,-42.9 -83.8,-42.1 -86.6,-40.0 -92.9,-32.8 -94.4,-32.0 -97.4,-31.6 -100.5,-32.8 -102.0,-34.0 -112.2,-46.1 -115.6,-48.8 -118.6,-50.2 -126.1,-51.2 -150.3,-51.0 -150.3,-114.9 -148.8,-114.8ZM61.2,-72.0 64.3,-71.8 65.6,-70.2 64.2,-69.3 61.2,-69.9 60.4,-70.2 60.3,-71.8 61.2,-72.0ZM-148.8,-18.6 -126.1,-18.8 -121.6,-18.3 -119.3,-17.4 -117.1,-15.6 -115.9,-12.8 -116.1,-9.8 -118.6,-6.2 -123.1,-4.3 -150.3,-4.4 -150.3,-18.6 -148.8,-18.6ZM-99.0,-4.2 -95.9,-4.7 -92.9,-3.5 -91.4,-1.8 -90.2,0.8 -89.5,5.3 -89.9,9.8 -91.4,13.6 -94.4,16.4 -97.4,17.1 -100.5,16.4 -102.0,15.2 -103.5,12.8 -104.4,8.3 -104.2,3.8 -103.4,0.8 -101.6,-2.3 -99.0,-4.2ZM-74.8,27.9 -68.7,27.8 -62.7,28.8 -58.0,31.0 -55.9,34.0 -56.2,37.0 -60.2,44.6 -64.7,56.7 -68.7,64.2 -70.2,65.8 -71.8,66.4 -73.3,66.4 -76.3,65.1 -86.9,55.6 -90.8,50.6 -92.5,46.1 -92.5,43.1 -91.7,40.0 -87.8,34.0 -82.3,30.0 -74.8,27.9ZM-108.0,43.5 -106.5,43.2 -105.0,43.7 -103.6,46.1 -103.6,47.6 -105.0,50.3 -108.0,52.3 -109.6,52.1 -110.7,50.6 -111.0,49.1 -110.3,46.1 -108.0,43.5ZM-50.6,53.3 -49.1,53.2 -47.6,54.0 -47.3,56.7 -49.1,59.0 -50.6,59.7 -52.7,59.7 -54.5,58.2 -54.5,56.7 -53.6,55.1 -50.6,53.3ZM82.3,68.0 83.8,67.8 86.9,69.0 92.9,74.5 99.2,79.3 105.0,87.8 112.5,93.6 117.1,100.0 119.6,102.0 126.1,103.2 150.3,103.0 150.3,150.3 -52.6,150.3 -53.0,108.0 -52.1,103.5 -50.6,99.3 -48.4,95.9 -46.1,94.0 -43.1,92.9 -40.0,92.6 -27.9,94.3 -17.4,94.6 -14.4,93.7 -6.8,88.3 -3.8,87.3 -2.3,87.8 4.4,92.9 8.3,95.0 14.4,96.4 18.9,96.1 22.4,94.4 24.8,91.4 26.0,88.4 27.9,79.1 29.5,76.4 31.0,75.9 32.5,76.5 38.5,82.3 43.1,85.7 47.6,87.7 50.6,88.0 53.6,86.5 58.2,81.7 61.2,79.4 64.2,78.5 71.8,78.7 74.8,77.7 76.3,76.3 79.5,70.2 82.3,68.0ZM-29.0,105.0 -30.0,106.5 -30.1,108.0 -29.5,109.6 -27.4,111.0 -23.0,111.0 -20.3,109.5 -19.4,108.0 -19.4,106.5 -20.4,105.0 -21.9,104.2 -26.4,103.8 -29.0,105.0ZM46.1,105.0 42.9,108.0 41.8,111.0 42.1,112.5 43.1,113.9 44.6,114.8 49.1,114.7 52.1,112.8 53.2,111.0 53.7,109.5 53.6,106.5 52.1,104.3 50.6,103.7 49.1,103.8 46.1,105.0Z"/>
<path fill="#ffa67f" fill-rule="evenodd" d="M-148.8,-110.0 -136.7,-109.8 -127.7,-110.5 -122.3,-109.5 -120.1,-107.9 -114.9,-102.0 -109.5,-97.4 -102.7,-89.9 -95.9,-84.4 -89.9,-76.7 -79.6,-71.8 -78.3,-70.2 -78.3,-67.2 -83.8,-55.2 -85.9,-52.1 -92.9,-46.0 -95.9,-44.4 -97.4,-44.3 -102.0,-46.3 -111.0,-55.2 -115.6,-57.2 -123.1,-57.8 -150.3,-57.8 -150.3,-110.0 -148.8,-110.0ZM-56.7,-105.3 -55.1,-105.7 -52.1,-105.2 -50.0,-103.5 -48.3,-100.5 -47.7,-97.4 -48.3,-92.9 -49.9,-89.9 -52.1,-88.6 -53.6,-88.7 -56.7,-90.4 -58.8,-92.9 -60.2,-95.9 -60.6,-99.0 -59.8,-102.0 -58.2,-104.3 -56.7,-105.3ZM-77.8,35.2 -73.3,34.2 -68.7,34.9 -66.0,37.0 -65.1,40.0 -66.0,46.1 -68.4,52.1 -71.8,55.9 -74.8,57.0 -77.8,56.5 -82.3,53.8 -85.0,50.6 -86.1,47.6 -85.8,43.1 -84.3,40.0 -81.2,37.0 -77.8,35.2ZM71.8,89.7 76.3,89.6 80.8,90.2 83.8,91.1 86.9,92.8 92.9,99.5 100.5,106.0 105.9,112.5 112.8,118.6 114.3,121.6 114.8,124.6 114.6,150.3 90.9,150.3 90.8,136.7 91.5,127.7 91.0,123.1 89.7,120.1 87.3,117.1 76.5,106.5 70.2,101.8 68.0,99.0 67.1,95.9 67.3,92.9 68.7,91.0 71.8,89.7ZM32.5,91.0 34.0,90.2 35.5,90.2 38.1,91.4 40.0,93.0 41.2,95.9 39.9,99.0 33.0,105.0 31.5,108.0 30.7,111.0 28.9,124.6 29.0,150.3 2.8,150.3 2.9,126.1 2.4,120.1 0.8,116.5 -0.8,115.3 -5.3,113.1 -6.5,111.0 -7.5,102.0 -6.2,97.4 -3.8,95.0 -0.8,94.8 12.8,100.1 18.9,101.5 23.4,101.6 26.4,100.7 27.9,99.5 32.5,91.0ZM-46.1,101.8 -44.6,100.8 -43.1,100.7 -41.5,101.6 -40.5,103.5 -38.0,112.5 -35.5,115.8 -32.5,117.8 -26.4,118.7 -12.8,116.2 -9.8,116.4 -9.0,117.1 -8.3,118.6 -7.8,123.1 -7.8,150.3 -48.6,150.3 -48.5,124.6 -49.0,111.0 -47.9,105.0 -46.1,101.8Z"/>
<path fill="#ff7b45" fill-rule="evenodd" d="M-95.9,-66.2 -92.9,-66.6 -90.0,-65.7 -89.1,-64.2 -89.1,-62.7 -89.9,-59.7 -92.1,-56.7 -94.4,-55.0 -97.4,-54.6 -100.5,-56.7 -101.7,-59.7 -101.7,-61.2 -99.9,-64.2 -95.9,-66.2ZM-76.3,41.5 -73.1,41.5 -71.8,42.9 -71.4,44.6 -71.8,47.2 -72.9,49.1 -74.8,50.4 -76.3,50.5 -78.9,49.1 -80.0,46.1 -78.7,43.1 -76.3,41.5ZM12.8,116.6 15.9,116.0 17.4,116.6 19.1,118.6 20.0,121.6 20.2,150.3 9.5,150.3 9.5,123.1 10.9,118.6 12.8,116.6Z"/><path fill="#ffccb3" d="M-101.0,-68.3 -99.1,-69.2 -97.0,-69.9 -94.7,-70.4 -92.3,-70.7 -89.7,-70.7 -86.8,-70.7 -83.7,-70.7 -80.4,-70.7 -76.8,-70.7 -74.2,-69.9 -72.7,-68.5 -72.1,-66.4 -72.6,-63.5 -73.2,-60.7 -73.9,-58.1 -74.7,-55.6 -75.7,-53.2 -76.9,-51.0 -78.3,-48.8 -80.0,-46.8 -81.9,-44.9 -83.8,-43.0 -85.7,-41.0 -87.6,-39.1 -89.5,-37.2 -91.5,-35.5 -93.4,-33.9 -95.3,-32.5 -97.2,-31.2 -98.9,-30.2 -100.3,-29.6 -101.5,-29.3 -102.4,-29.3 -103.0,-30.1 -103.3,-31.7 -103.2,-34.1 -102.7,-37.2 -102.4,-40.3 -102.4,-43.4 -102.7,-46.3 -103.2,-49.2 -103.9,-51.3 -104.8,-52.7 -106.0,-53.5 -107.5,-53.5 -108.5,-53.9 -109.2,-54.9 -109.6,-56.3 -109.6,-58.2 -109.2,-60.0 -108.5,-61.7 -107.5,-63.2 -106.0,-64.7 -104.5,-66.0 -102.8,-67.2Z"/>
<path fill="#ffa67f" d="M-107.1,-60.9 -105.4,-61.8 -103.7,-62.6 -101.9,-63.4 -100.1,-64.3 -98.1,-65.1 -96.1,-65.9 -94.0,-66.6 -91.7,-67.2 -89.3,-67.8 -86.7,-68.2 -84.0,-68.4 -81.1,-68.4 -78.0,-68.1 -75.7,-67.5 -74.3,-66.6 -73.7,-65.3 -73.9,-63.6 -74.3,-61.9 -74.7,-60.3 -75.3,-58.6 -76.1,-56.9 -77.1,-55.1 -78.4,-53.2 -80.0,-51.2 -81.9,-49.0 -83.9,-47.3 -86.1,-46.0 -88.4,-45.1 -90.7,-44.6 -92.7,-44.6 -94.3,-45.1 -95.4,-46.1 -96.1,-47.5 -96.6,-48.9 -96.8,-50.4 -96.8,-51.8 -96.6,-53.2 -96.9,-54.3 -97.7,-54.9 -99.1,-55.2 -101.0,-55.1 -102.8,-55.0 -104.5,-54.8 -106.0,-54.7 -107.5,-54.6 -108.5,-54.8 -109.2,-55.4 -109.6,-56.4 -109.6,-57.7 -109.2,-58.9 -108.3,-60.0Z"/>
<path fill="#ff7b45" d="M-108.2,-59.1 -107.2,-59.3 -106.4,-59.3 -105.8,-59.1 -105.4,-58.6 -105.2,-57.9 -105.2,-57.3 -105.6,-56.7 -106.3,-56.3 -107.2,-55.9 -108.0,-55.8 -108.6,-56.1 -109.0,-56.6 -109.2,-57.5 -109.2,-58.1 -108.8,-58.7Z"/>
<path fill="#ff7b45" d="M-97.9,-60.3 -96.5,-61.0 -94.9,-61.6 -93.2,-62.1 -91.5,-62.4 -89.5,-62.7 -87.8,-63.0 -86.1,-63.5 -84.5,-64.1 -83.1,-64.8 -81.8,-65.3 -80.6,-65.5 -79.5,-65.5 -78.6,-65.3 -78.1,-64.9 -78.1,-64.3 -78.6,-63.5 -79.5,-62.5 -80.6,-61.7 -81.8,-61.0 -83.1,-60.4 -84.5,-59.9 -86.0,-59.4 -87.4,-59.0 -88.8,-58.5 -90.3,-58.0 -91.7,-57.6 -93.1,-57.4 -94.6,-57.3 -96.0,-57.3 -97.2,-57.4 -98.1,-57.6 -98.9,-58.0 -99.3,-58.5 -99.3,-59.0 -98.9,-59.6Z"/>
<path fill="#ff7b45" d="M-102.6,-73.2 -101.8,-74.8 -100.7,-76.2 -99.4,-77.2 -97.8,-77.9 -96.1,-78.2 -94.2,-78.4 -92.4,-78.5 -90.5,-78.4 -88.6,-78.2 -86.7,-77.9 -84.8,-77.6 -82.9,-77.3 -81.0,-76.9 -79.1,-76.5 -77.3,-76.0 -75.6,-75.5 -73.9,-74.9 -72.4,-74.2 -70.9,-73.5 -69.6,-72.7 -68.4,-71.9 -67.6,-71.0 -67.3,-70.1 -67.3,-69.0 -67.8,-68.0 -68.5,-67.1 -69.3,-66.5 -70.3,-66.2 -71.5,-66.1 -72.7,-66.0 -73.9,-66.1 -75.1,-66.2 -76.3,-66.5 -77.6,-66.7 -79.0,-67.0 -80.6,-67.4 -82.3,-67.7 -84.0,-68.1 -85.8,-68.4 -87.6,-68.6 -89.5,-68.9 -91.5,-69.0 -93.4,-69.1 -95.3,-69.0 -97.2,-68.9 -98.9,-68.9 -100.3,-69.1 -101.5,-69.5 -102.4,-69.9 -102.9,-70.7 -103.0,-71.8Z"/>
<path fill="#ff5019" d="M-101.8,-73.2 -101.1,-74.3 -100.2,-75.2 -99.2,-75.8 -97.9,-76.3 -96.5,-76.5 -95.0,-76.6 -93.4,-76.6 -91.8,-76.5 -90.1,-76.3 -88.5,-76.0 -86.8,-75.8 -85.1,-75.5 -83.5,-75.3 -81.8,-75.0 -80.3,-74.7 -78.8,-74.4 -77.4,-74.1 -75.9,-73.7 -74.5,-73.2 -73.1,-72.8 -71.6,-72.3 -70.4,-71.9 -69.5,-71.5 -68.8,-71.1 -68.3,-70.7 -68.1,-70.3 -68.1,-69.9 -68.3,-69.5 -68.8,-69.0 -69.5,-68.7 -70.4,-68.5 -71.6,-68.4 -73.1,-68.6 -74.5,-68.7 -75.9,-68.9 -77.4,-69.1 -78.8,-69.3 -80.3,-69.6 -81.8,-69.8 -83.5,-70.1 -85.1,-70.3 -86.8,-70.5 -88.5,-70.7 -90.1,-70.8 -91.8,-70.9 -93.4,-71.0 -95.0,-71.0 -96.5,-70.9 -97.9,-70.8 -99.2,-70.8 -100.2,-70.9 -101.1,-71.0 -101.8,-71.2 -102.2,-71.7 -102.2,-72.4Z"/>
<path fill="#e63205" d="M-99.9,-73.6 -99.2,-74.2 -98.3,-74.7 -97.2,-75.1 -96.0,-75.3 -94.6,-75.4 -93.1,-75.3 -91.7,-75.2 -90.3,-75.0 -88.8,-74.7 -87.4,-74.4 -86.0,-74.1 -84.5,-73.8 -83.1,-73.5 -81.8,-73.2 -80.6,-72.8 -79.5,-72.5 -78.6,-72.1 -78.1,-71.8 -78.1,-71.5 -78.6,-71.2 -79.5,-71.0 -80.6,-70.9 -81.8,-70.9 -83.1,-71.0 -84.5,-71.2 -86.0,-71.5 -87.4,-71.6 -88.8,-71.8 -90.3,-71.9 -91.7,-72.0 -93.1,-72.0 -94.6,-71.9 -96.0,-71.8 -97.2,-71.8 -98.3,-71.8 -99.2,-72.0 -99.9,-72.2 -100.3,-72.5 -100.3,-73.0Z"/>
<path fill="#b4cdfc" d="M-72.2,-83.8 -71.1,-84.3 -70.0,-84.4 -68.9,-84.3 -67.7,-83.9 -66.5,-83.2 -65.3,-82.4 -64.1,-81.6 -62.9,-80.7 -61.7,-79.7 -60.6,-78.9 -59.5,-78.1 -58.5,-77.4 -57.6,-76.8 -57.0,-76.3 -56.9,-75.8 -57.2,-75.4 -57.9,-75.0 -58.8,-74.9 -59.9,-74.9 -61.1,-75.2 -62.6,-75.7 -63.9,-76.1 -65.3,-76.6 -66.5,-77.1 -67.7,-77.6 -68.8,-78.1 -69.8,-78.5 -70.7,-79.0 -71.6,-79.5 -72.3,-80.0 -72.8,-80.6 -73.2,-81.3 -73.4,-82.0 -73.3,-82.6 -72.9,-83.2Z"/>
<path fill="#85aafc" d="M-70.3,-82.8 -69.6,-82.9 -68.8,-82.8 -68.0,-82.5 -67.1,-82.0 -66.1,-81.3 -65.6,-80.7 -65.5,-80.3 -65.8,-80.0 -66.5,-79.9 -67.3,-80.0 -68.1,-80.3 -69.0,-80.8 -70.0,-81.5 -70.5,-82.1 -70.6,-82.5Z"/>
<path fill="#85aafc" d="M-50.9,-79.3 -49.9,-79.7 -49.0,-80.2 -48.0,-80.8 -47.0,-81.6 -46.1,-82.6 -45.3,-83.4 -44.5,-84.0 -43.9,-84.4 -43.5,-84.6 -43.0,-84.6 -42.5,-84.2 -42.0,-83.5 -41.6,-82.6 -41.4,-81.5 -41.5,-80.3 -41.9,-79.0 -42.6,-77.6 -43.4,-76.4 -44.2,-75.5 -45.1,-74.9 -46.1,-74.5 -47.0,-74.4 -48.0,-74.4 -49.0,-74.5 -49.9,-74.9 -50.7,-75.4 -51.3,-76.0 -51.7,-76.7 -51.9,-77.5 -51.9,-78.2 -51.5,-78.8Z"/>
<path fill="#4577fb" d="M-48.7,-78.4 -47.8,-78.7 -47.0,-79.1 -46.2,-79.5 -45.5,-80.0 -44.8,-80.4 -44.3,-80.5 -44.1,-80.1 -44.1,-79.4 -44.3,-78.2 -44.7,-77.2 -45.3,-76.4 -46.1,-75.8 -47.0,-75.5 -47.9,-75.4 -48.5,-75.6 -49.0,-76.0 -49.4,-76.7 -49.4,-77.4 -49.2,-77.9Z"/>
<path fill="#85aafc" d="M6.8,83.4 7.7,82.0 8.5,80.5 9.3,79.1 10.1,77.6 10.8,76.2 11.5,74.7 12.0,73.3 12.6,71.8 13.0,70.4 13.4,68.9 13.9,67.5 14.3,66.0 14.7,64.6 15.2,63.3 15.7,62.1 16.3,61.1 16.8,60.2 17.5,59.6 18.2,59.2 18.9,58.9 19.7,58.9 20.3,59.4 20.5,60.2 20.5,61.5 20.2,63.3 19.9,65.0 19.6,66.8 19.4,68.5 19.1,70.2 18.7,72.0 18.4,73.7 17.9,75.5 17.5,77.2 17.0,78.9 16.5,80.5 15.9,82.0 15.3,83.4 14.8,84.9 14.4,86.3 14.0,87.8 13.7,89.2 13.4,90.7 13.1,92.1 12.9,93.6 12.6,95.0 12.1,96.1 11.5,96.8 10.7,97.2 9.8,97.2 9.0,96.8 8.2,96.1 7.5,95.0 6.8,93.6 6.3,92.1 6.0,90.7 5.7,89.2 5.7,87.8 5.8,86.3 6.2,84.9Z"/>
<path fill="#4577fb" d="M8.7,83.3 9.6,82.1 10.4,80.9 11.2,79.6 12.0,78.2 12.6,76.8 13.2,75.3 13.7,73.9 14.2,72.4 14.5,71.0 14.9,69.6 15.2,68.2 15.6,66.8 16.0,65.5 16.4,64.3 16.8,63.2 17.2,62.3 17.6,61.4 18.1,60.7 18.6,60.3 19.1,60.1 19.7,60.1 20.1,60.5 20.2,61.2 20.2,62.3 19.9,63.7 19.6,65.2 19.3,66.8 19.0,68.5 18.7,70.2 18.4,72.0 18.0,73.7 17.6,75.5 17.2,77.2 16.7,78.9 16.2,80.5 15.7,82.0 15.1,83.4 14.6,84.9 14.1,86.3 13.8,87.8 13.5,89.2 13.2,90.6 12.9,92.0 12.6,93.4 12.3,94.7 11.9,95.6 11.4,96.2 10.8,96.5 10.1,96.4 9.4,95.9 8.7,95.1 8.1,93.8 7.6,92.1 7.2,90.6 6.9,89.2 6.9,87.9 7.0,86.8 7.4,85.6 7.9,84.4Z"/>
<path fill="#002fde" d="M10.9,84.6 11.8,83.1 12.5,81.7 13.2,80.2 13.7,78.8 14.1,77.3 14.5,75.9 14.9,74.4 15.2,73.0 15.5,71.5 15.8,70.2 16.1,69.1 16.4,68.1 16.7,67.2 16.9,66.9 17.2,67.2 17.3,68.1 17.5,69.5 17.5,71.1 17.3,72.9 17.0,74.7 16.6,76.8 16.1,78.6 15.6,80.4 15.1,82.0 14.5,83.4 14.0,85.0 13.5,86.5 13.0,88.2 12.6,90.0 12.1,91.3 11.6,92.3 11.0,93.0 10.5,93.3 9.9,93.2 9.5,92.8 9.1,92.0 8.9,90.8 8.7,89.8 8.7,88.9 8.9,88.2 9.1,87.6 9.6,86.8 10.2,85.8Z"/>
<path fill="#0019b9" d="M9.9,86.6 10.5,85.8 10.9,85.4 11.3,85.5 11.5,86.2 11.7,87.3 11.7,88.6 11.6,89.9 11.5,91.3 11.2,92.7 10.9,93.7 10.5,94.1 10.1,94.0 9.7,93.4 9.3,92.7 9.1,91.8 9.0,90.8 9.0,89.7 9.1,88.6 9.4,87.6Z"/>
<path fill="#4577fb" d="M-30.1,68.4 -29.6,68.1 -29.0,68.0 -28.4,68.1 -27.8,68.5 -27.2,69.1 -26.6,69.5 -25.9,69.7 -25.1,69.8 -24.2,69.7 -23.3,69.7 -22.5,69.8 -21.6,70.0 -20.7,70.2 -20.0,70.5 -19.3,71.0 -18.8,71.6 -18.3,72.3 -18.1,73.1 -18.1,73.8 -18.3,74.5 -18.8,75.2 -19.3,75.9 -20.0,76.4 -20.7,76.8 -21.6,77.1 -22.5,77.3 -23.3,77.4 -24.2,77.5 -25.1,77.5 -25.9,77.4 -26.7,77.3 -27.5,77.1 -28.2,76.8 -28.8,76.4 -29.4,75.9 -29.9,75.2 -30.4,74.5 -30.7,73.8 -31.0,73.2 -31.2,72.6 -31.4,72.0 -31.4,71.4 -31.4,70.8 -31.4,70.2 -31.2,69.7 -31.0,69.2 -30.6,68.7Z"/>
<path fill="#1a4dfa" d="M-29.7,69.2 -28.8,69.0 -28.0,69.1 -27.1,69.4 -26.2,69.9 -25.4,70.6 -24.8,71.4 -24.5,72.4 -24.5,73.4 -24.8,74.6 -25.2,75.4 -25.9,75.9 -26.7,76.1 -27.7,76.0 -28.6,75.5 -29.3,74.6 -29.9,73.4 -30.4,71.8 -30.5,70.5 -30.2,69.7Z"/>
<path fill="#ffccb3" d="M-21.7,71.1 -20.6,71.3 -19.7,71.8 -19.2,72.4 -19.0,73.2 -19.2,74.2 -19.5,75.0 -20.0,75.4 -20.7,75.6 -21.6,75.5 -22.3,75.2 -22.8,74.6 -23.1,73.7 -23.2,72.5 -23.1,71.7 -22.6,71.2Z"/>
<path fill="#ff7b45" d="M-85.9,53.3 -85.0,51.8 -84.1,50.5 -83.0,49.2 -82.0,47.9 -80.8,46.8 -79.6,45.7 -78.5,44.9 -77.3,44.1 -76.2,43.6 -74.9,43.1 -73.6,42.8 -72.2,42.7 -70.8,42.7 -69.9,43.1 -69.6,43.8 -69.9,44.9 -70.8,46.3 -71.7,47.7 -72.8,49.0 -73.8,50.2 -75.0,51.4 -76.2,52.6 -77.5,53.7 -78.9,54.9 -80.4,56.0 -81.7,56.8 -83.0,57.1 -84.3,56.9 -85.4,56.3 -86.1,55.5 -86.2,54.5Z"/>
<path fill="#ff5019" d="M-81.2,50.2 -80.4,49.1 -79.4,48.0 -78.4,47.0 -77.3,46.0 -76.2,45.2 -75.1,44.6 -74.3,44.3 -73.5,44.3 -73.0,44.6 -72.8,45.1 -72.9,45.8 -73.4,46.8 -74.3,47.9 -75.2,49.0 -76.2,50.1 -77.3,51.2 -78.5,52.2 -79.5,52.8 -80.4,53.1 -81.1,53.1 -81.7,52.6 -81.9,52.0 -81.7,51.2Z"/>
<path fill="#ffa67f" d="M-71.2,53.9 -70.6,53.6 -70.1,53.7 -69.6,54.3 -69.1,55.3 -68.7,56.8 -68.3,58.2 -68.0,59.7 -67.8,61.1 -67.7,62.6 -67.4,63.9 -66.8,65.1 -66.2,66.3 -65.3,67.3 -64.3,67.9 -63.3,68.2 -62.2,68.1 -61.1,67.7 -59.8,67.1 -58.3,66.3 -56.7,65.3 -55.0,64.2 -53.3,63.2 -51.7,62.5 -50.2,62.0 -48.8,61.7 -47.6,61.7 -46.7,61.9 -46.2,62.3 -45.9,63.1 -46.1,63.7 -46.8,64.3 -48.0,64.8 -49.8,65.2 -51.4,65.8 -53.0,66.5 -54.6,67.4 -56.0,68.4 -57.5,69.3 -58.9,70.1 -60.4,70.8 -61.8,71.4 -63.2,71.7 -64.5,71.8 -65.7,71.6 -66.9,71.2 -67.9,70.5 -68.8,69.6 -69.5,68.4 -70.1,66.9 -70.6,65.2 -71.0,63.1 -71.4,60.8 -71.7,58.2 -71.7,56.2 -71.6,54.7Z"/>
<path fill="#ff7b45" d="M-65.0,68.7 -64.1,68.6 -63.1,68.3 -62.0,67.9 -60.6,67.3 -59.2,66.5 -57.8,65.8 -56.5,65.1 -55.3,64.4 -54.1,63.9 -53.2,63.5 -52.5,63.5 -51.9,63.6 -51.7,64.1 -51.8,64.6 -52.4,65.3 -53.4,66.0 -54.8,66.9 -56.3,67.7 -57.7,68.5 -59.2,69.3 -60.6,70.0 -62.0,70.5 -63.1,70.8 -64.1,70.9 -65.0,70.7 -65.6,70.5 -66.1,70.2 -66.3,69.9 -66.3,69.4 -66.1,69.1 -65.6,68.8Z"/>
<path fill="#b4cdfc" d="M46.5,-111.9 47.6,-112.5 48.8,-112.9 49.9,-113.0 51.1,-112.9 52.3,-112.7 53.3,-112.1 54.1,-111.2 54.9,-110.1 55.4,-108.6 56.0,-107.2 56.6,-105.7 57.2,-104.3 57.8,-102.8 58.6,-101.6 59.8,-100.8 61.2,-100.2 63.0,-99.9 64.5,-99.8 65.9,-100.0 67.1,-100.3 68.1,-100.9 68.9,-100.8 69.5,-100.1 69.9,-98.7 70.0,-96.7 69.9,-94.8 69.7,-93.1 69.1,-91.5 68.4,-90.0 67.5,-88.7 66.5,-87.6 65.4,-86.6 64.1,-85.7 62.7,-85.0 61.4,-84.6 59.9,-84.4 58.5,-84.4 57.2,-84.6 56.0,-85.0 55.0,-85.7 54.1,-86.6 53.3,-87.5 52.6,-88.5 52.0,-89.6 51.4,-90.8 50.7,-91.8 49.8,-92.7 48.8,-93.4 47.6,-94.0 46.6,-94.8 45.7,-96.0 45.0,-97.4 44.4,-99.2 44.1,-101.1 43.9,-103.1 44.0,-105.3 44.3,-107.6 44.8,-109.5 45.5,-110.9Z"/>
<path fill="#85aafc" d="M53.9,-92.9 55.3,-93.2 56.8,-93.7 58.4,-94.3 60.1,-95.0 61.8,-95.8 63.4,-96.6 64.9,-97.1 66.2,-97.6 67.3,-97.9 68.2,-97.7 68.7,-96.9 68.9,-95.7 68.7,-94.0 68.3,-92.4 67.5,-90.9 66.5,-89.6 65.2,-88.5 63.9,-87.5 62.5,-86.8 61.1,-86.3 59.6,-86.0 58.3,-85.9 57.1,-86.1 56.0,-86.4 54.9,-87.0 54.1,-87.7 53.3,-88.6 52.8,-89.6 52.3,-90.8 52.4,-91.7 52.9,-92.4Z"/>
<path fill="#4577fb" d="M66.0,-96.6 67.0,-97.1 67.7,-97.1 68.2,-96.6 68.5,-95.8 68.5,-94.5 68.3,-93.3 67.9,-92.4 67.4,-91.6 66.7,-91.1 66.1,-91.0 65.6,-91.4 65.2,-92.4 64.9,-93.8 64.9,-95.0 65.3,-96.0Z"/>
<path fill="#ffccb3" d="M29.1,16.7 30.1,15.8 31.2,15.2 32.4,15.0 33.8,15.0 35.2,15.2 36.5,15.9 37.7,16.9 38.7,18.3 39.6,20.0 40.3,21.9 40.9,23.9 41.3,26.1 41.6,28.4 41.6,30.3 41.3,31.8 40.7,32.8 39.9,33.4 38.9,33.7 37.7,33.7 36.4,33.4 34.9,32.8 33.6,32.0 32.4,31.0 31.3,29.7 30.2,28.3 29.4,26.7 28.8,25.0 28.3,23.1 28.0,21.0 28.0,19.3 28.4,17.9Z"/>
<path fill="#ffa67f" d="M31.5,20.2 32.3,19.8 32.9,19.8 33.4,20.1 33.8,20.9 34.1,22.1 34.2,23.2 34.1,24.4 33.9,25.5 33.4,26.7 33.0,27.4 32.4,27.7 31.9,27.6 31.3,27.0 30.9,26.2 30.6,25.3 30.5,24.2 30.5,22.9 30.6,21.8 31.0,20.9Z"/></g>
<use href="#coast" x="364.6" y="654.3"/>
</g>
<circle cx="364.6" cy="654.3" r="126.9" fill="none" stroke="#000" stroke-width="1"/>
<text x="505.6" y="553.4" class="st" xml:space="preserve">MIN =  -2.94 MAX =   4.10</text>
<rect x="543.40" y="766.50" width="21.50" height="12.78" fill="#00008f" stroke="#000" stroke-width="0.6"/>
<rect x="543.40" y="753.72" width="21.50" height="12.78" fill="#0019b9" stroke="#000" stroke-width="0.6"/>
<rect x="543.40" y="740.94" width="21.50" height="12.78" fill="#002fde" stroke="#000" stroke-width="0.6"/>
<rect x="543.40" y="728.16" width="21.50" height="12.78" fill="#1a4dfa" stroke="#000" stroke-width="0.6"/>
<rect x="543.40" y="715.38" width="21.50" height="12.78" fill="#4577fb" stroke="#000" stroke-width="0.6"/>
<rect x="543.40" y="702.60" width="21.50" height="12.78" fill="#85aafc" stroke="#000" stroke-width="0.6"/>
<rect x="543.40" y="689.82" width="21.50" height="12.78" fill="#b4cdfc" stroke="#000" stroke-width="0.6"/>
<rect x="543.40" y="677.04" width="21.50" height="12.78" fill="#d7eaff" stroke="#000" stroke-width="0.6"/>
<rect x="543.40" y="664.26" width="21.50" height="12.78" fill="#ffe9d9" stroke="#000" stroke-width="0.6"/>
<rect x="543.40" y="651.48" width="21.50" height="12.78" fill="#ffccb3" stroke="#000" stroke-width="0.6"/>
<rect x="543.40" y="638.70" width="21.50" height="12.78" fill="#ffa67f" stroke="#000" stroke-width="0.6"/>
<rect x="543.40" y="625.92" width="21.50" height="12.78" fill="#ff7b45" stroke="#000" stroke-width="0.6"/>
<rect x="543.40" y="613.14" width="21.50" height="12.78" fill="#ff5019" stroke="#000" stroke-width="0.6"/>
<rect x="543.40" y="600.36" width="21.50" height="12.78" fill="#e63205" stroke="#000" stroke-width="0.6"/>
<rect x="543.40" y="587.58" width="21.50" height="12.78" fill="#be2307" stroke="#000" stroke-width="0.6"/>
<rect x="543.40" y="574.80" width="21.50" height="12.78" fill="#8b0000" stroke="#000" stroke-width="0.6"/>
<text x="577.20" y="770.30" class="lb" text-anchor="middle">-4</text>
<text x="577.20" y="757.52" class="lb" text-anchor="middle">-3</text>
<text x="577.20" y="744.74" class="lb" text-anchor="middle">-2</text>
<text x="577.20" y="731.96" class="lb" text-anchor="middle">-1.5</text>
<text x="577.20" y="719.18" class="lb" text-anchor="middle">-1</text>
<text x="577.20" y="706.40" class="lb" text-anchor="middle">-0.5</text>
<text x="577.20" y="693.62" class="lb" text-anchor="middle">-0.3</text>
<text x="577.20" y="680.84" class="lb" text-anchor="middle">0</text>
<text x="577.20" y="668.06" class="lb" text-anchor="middle">0.3</text>
<text x="577.20" y="655.28" class="lb" text-anchor="middle">0.5</text>
<text x="577.20" y="642.50" class="lb" text-anchor="middle">1</text>
<text x="577.20" y="629.72" class="lb" text-anchor="middle">1.5</text>
<text x="577.20" y="616.94" class="lb" text-anchor="middle">2</text>
<text x="577.20" y="604.16" class="lb" text-anchor="middle">3</text>
<text x="577.20" y="591.38" class="lb" text-anchor="middle">4</text>
</svg>
</body></html>
